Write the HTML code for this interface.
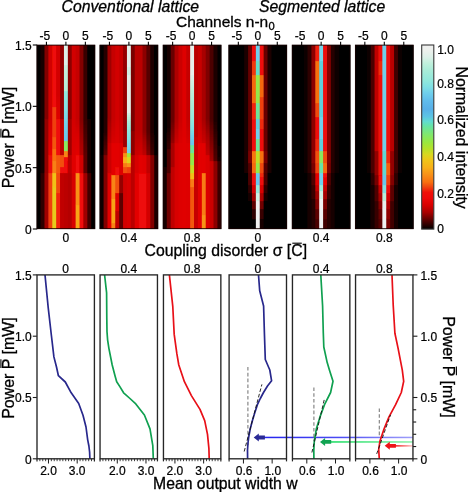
<!DOCTYPE html><html><head><meta charset="utf-8"><title>fig</title><style>html,body{margin:0;padding:0;background:#fff}svg{display:block}text{font-family:"Liberation Sans",sans-serif;fill:#000;stroke:#000;stroke-width:0.3px}.s{stroke-width:0.22px}</style></head><body>
<svg width="468" height="492" viewBox="0 0 468 492">
<defs>
<filter id="bl" x="-5%" y="-5%" width="110%" height="110%"><feGaussianBlur stdDeviation="0.65 0.45"/></filter>
<clipPath id="hc0"><rect x="36.70" y="45" width="58.40" height="184"/></clipPath>
<clipPath id="lc0"><rect x="37.00" y="274.9" width="57.40" height="183.90"/></clipPath>
<clipPath id="hc1"><rect x="99.70" y="45" width="58.40" height="184"/></clipPath>
<clipPath id="lc1"><rect x="100.05" y="274.9" width="57.40" height="183.90"/></clipPath>
<clipPath id="hc2"><rect x="162.90" y="45" width="58.40" height="184"/></clipPath>
<clipPath id="lc2"><rect x="163.45" y="274.9" width="57.40" height="183.90"/></clipPath>
<clipPath id="hc3"><rect x="228.60" y="45" width="58.40" height="184"/></clipPath>
<clipPath id="lc3"><rect x="229.10" y="274.9" width="57.40" height="183.90"/></clipPath>
<clipPath id="hc4"><rect x="291.95" y="45" width="58.40" height="184"/></clipPath>
<clipPath id="lc4"><rect x="292.45" y="274.9" width="57.40" height="183.90"/></clipPath>
<clipPath id="hc5"><rect x="355.10" y="45" width="58.40" height="184"/></clipPath>
<clipPath id="lc5"><rect x="355.55" y="274.9" width="57.40" height="183.90"/></clipPath>
<linearGradient id="cb" x1="0" y1="1" x2="0" y2="0">
<stop offset="0.000" stop-color="#000000"/>
<stop offset="0.030" stop-color="#380000"/>
<stop offset="0.060" stop-color="#700000"/>
<stop offset="0.090" stop-color="#a80000"/>
<stop offset="0.130" stop-color="#d80000"/>
<stop offset="0.170" stop-color="#ee0808"/>
<stop offset="0.200" stop-color="#f01008"/>
<stop offset="0.230" stop-color="#f04810"/>
<stop offset="0.255" stop-color="#f87010"/>
<stop offset="0.295" stop-color="#f89018"/>
<stop offset="0.335" stop-color="#f8b018"/>
<stop offset="0.373" stop-color="#f0c418"/>
<stop offset="0.406" stop-color="#d8d820"/>
<stop offset="0.434" stop-color="#b8e028"/>
<stop offset="0.472" stop-color="#98e840"/>
<stop offset="0.516" stop-color="#80e870"/>
<stop offset="0.556" stop-color="#68e4a0"/>
<stop offset="0.584" stop-color="#60dcd0"/>
<stop offset="0.611" stop-color="#5cc4e4"/>
<stop offset="0.652" stop-color="#58b0e8"/>
<stop offset="0.696" stop-color="#60bcec"/>
<stop offset="0.740" stop-color="#70d0ec"/>
<stop offset="0.773" stop-color="#80e0e4"/>
<stop offset="0.806" stop-color="#90e8dc"/>
<stop offset="0.861" stop-color="#a8ecd8"/>
<stop offset="0.900" stop-color="#c0f0dc"/>
<stop offset="0.934" stop-color="#dcf0e8"/>
<stop offset="0.970" stop-color="#ecf0ec"/>
<stop offset="1.000" stop-color="#f0f0f0"/>
</linearGradient>
<linearGradient id="fb" x1="0" x2="1" y1="0" y2="0"><stop offset="0" stop-color="#2222dd"/><stop offset="1" stop-color="#8888ff"/></linearGradient>
</defs>
<rect width="468" height="492" fill="#fff"/>
<text x="61.6" y="12.0" font-size="15.75" font-style="italic">Conventional lattice</text>
<text x="259.1" y="12.0" font-size="15.75" font-style="italic">Segmented lattice</text>
<text x="176" y="27.2" font-size="15.5">Channels n-n<tspan font-size="11.2" dy="2.4" dx="0.3">0</tspan></text>
<g clip-path="url(#hc0)"><g filter="url(#bl)">
<rect x="33.70" y="42" width="64.40" height="190" fill="#000"/>
<rect x="36.70" y="44.85" width="5.09" height="184.30" fill="#000000"/>
<rect x="40.59" y="172.85" width="5.09" height="56.30" fill="#2f0000"/>
<rect x="40.59" y="44.85" width="5.09" height="128.30" fill="#160000"/>
<rect x="44.49" y="172.85" width="5.09" height="56.30" fill="#9f0000"/>
<rect x="44.49" y="118.85" width="5.09" height="54.30" fill="#950000"/>
<rect x="44.49" y="44.85" width="5.09" height="74.30" fill="#830000"/>
<rect x="48.38" y="172.85" width="5.09" height="56.30" fill="#f03f0f"/>
<rect x="48.38" y="154.85" width="5.09" height="18.30" fill="#ef0d08"/>
<rect x="48.38" y="152.85" width="5.09" height="2.30" fill="#e80606"/>
<rect x="48.38" y="150.85" width="5.09" height="2.30" fill="#e70505"/>
<rect x="48.38" y="148.85" width="5.09" height="2.30" fill="#e60505"/>
<rect x="48.38" y="146.85" width="5.09" height="2.30" fill="#e50505"/>
<rect x="48.38" y="144.85" width="5.09" height="2.30" fill="#e40404"/>
<rect x="48.38" y="142.85" width="5.09" height="2.30" fill="#e30404"/>
<rect x="48.38" y="140.85" width="5.09" height="2.30" fill="#e10303"/>
<rect x="48.38" y="138.85" width="5.09" height="2.30" fill="#e00303"/>
<rect x="48.38" y="136.85" width="5.09" height="2.30" fill="#df0303"/>
<rect x="48.38" y="134.85" width="5.09" height="2.30" fill="#de0202"/>
<rect x="48.38" y="132.85" width="5.09" height="2.30" fill="#dd0202"/>
<rect x="48.38" y="130.85" width="5.09" height="2.30" fill="#dc0202"/>
<rect x="48.38" y="128.85" width="5.09" height="2.30" fill="#db0101"/>
<rect x="48.38" y="126.85" width="5.09" height="2.30" fill="#da0101"/>
<rect x="48.38" y="124.85" width="5.09" height="2.30" fill="#d90000"/>
<rect x="48.38" y="122.85" width="5.09" height="2.30" fill="#d80000"/>
<rect x="48.38" y="120.85" width="5.09" height="2.30" fill="#d60000"/>
<rect x="48.38" y="118.85" width="5.09" height="2.30" fill="#d40000"/>
<rect x="48.38" y="44.85" width="5.09" height="74.30" fill="#d20000"/>
<rect x="52.27" y="186.85" width="5.09" height="42.30" fill="#e7cb1b"/>
<rect x="52.27" y="172.85" width="5.09" height="14.30" fill="#f1c218"/>
<rect x="52.27" y="160.85" width="5.09" height="12.30" fill="#f88014"/>
<rect x="52.27" y="148.85" width="5.09" height="12.30" fill="#f87010"/>
<rect x="52.27" y="136.85" width="5.09" height="12.30" fill="#f35810"/>
<rect x="52.27" y="106.85" width="5.09" height="30.30" fill="#f03f0f"/>
<rect x="52.27" y="102.85" width="5.09" height="4.30" fill="#f01008"/>
<rect x="52.27" y="96.85" width="5.09" height="6.30" fill="#f00f08"/>
<rect x="52.27" y="94.85" width="5.09" height="2.30" fill="#f00e08"/>
<rect x="52.27" y="90.85" width="5.09" height="4.30" fill="#ef0e08"/>
<rect x="52.27" y="84.85" width="5.09" height="6.30" fill="#ef0d08"/>
<rect x="52.27" y="44.85" width="5.09" height="40.30" fill="#ef0c08"/>
<rect x="56.17" y="192.85" width="5.09" height="36.30" fill="#f0230b"/>
<rect x="56.17" y="172.85" width="5.09" height="20.30" fill="#f04810"/>
<rect x="56.17" y="154.85" width="5.09" height="18.30" fill="#f35810"/>
<rect x="56.17" y="118.85" width="5.09" height="36.30" fill="#ef0d08"/>
<rect x="56.17" y="114.85" width="5.09" height="4.30" fill="#dd0202"/>
<rect x="56.17" y="112.85" width="5.09" height="2.30" fill="#dc0101"/>
<rect x="56.17" y="108.85" width="5.09" height="4.30" fill="#db0101"/>
<rect x="56.17" y="106.85" width="5.09" height="2.30" fill="#da0101"/>
<rect x="56.17" y="102.85" width="5.09" height="4.30" fill="#d90000"/>
<rect x="56.17" y="100.85" width="5.09" height="2.30" fill="#d80000"/>
<rect x="56.17" y="98.85" width="5.09" height="2.30" fill="#d60000"/>
<rect x="56.17" y="96.85" width="5.09" height="2.30" fill="#d50000"/>
<rect x="56.17" y="94.85" width="5.09" height="2.30" fill="#d30000"/>
<rect x="56.17" y="44.85" width="5.09" height="50.30" fill="#d20000"/>
<rect x="60.06" y="172.85" width="5.09" height="56.30" fill="#c00000"/>
<rect x="60.06" y="166.85" width="5.09" height="6.30" fill="#f01008"/>
<rect x="60.06" y="154.85" width="5.09" height="12.30" fill="#f25010"/>
<rect x="60.06" y="118.85" width="5.09" height="36.30" fill="#c00000"/>
<rect x="60.06" y="44.85" width="5.09" height="74.30" fill="#950000"/>
<rect x="63.95" y="172.85" width="5.09" height="56.30" fill="#bb0000"/>
<rect x="63.95" y="160.85" width="5.09" height="12.30" fill="#ee0808"/>
<rect x="63.95" y="156.85" width="5.09" height="4.30" fill="#f01008"/>
<rect x="63.95" y="150.85" width="5.09" height="6.30" fill="#f88415"/>
<rect x="63.95" y="140.85" width="5.09" height="10.30" fill="#89e85f"/>
<rect x="63.95" y="138.85" width="5.09" height="2.30" fill="#69c7ec"/>
<rect x="63.95" y="136.85" width="5.09" height="2.30" fill="#6ac8ec"/>
<rect x="63.95" y="134.85" width="5.09" height="2.30" fill="#6bc9ec"/>
<rect x="63.95" y="132.85" width="5.09" height="2.30" fill="#6ccbec"/>
<rect x="63.95" y="130.85" width="5.09" height="2.30" fill="#6dccec"/>
<rect x="63.95" y="128.85" width="5.09" height="2.30" fill="#6ecdec"/>
<rect x="63.95" y="126.85" width="5.09" height="2.30" fill="#6eceec"/>
<rect x="63.95" y="124.85" width="5.09" height="2.30" fill="#6fcfec"/>
<rect x="63.95" y="122.85" width="5.09" height="2.30" fill="#71d1ec"/>
<rect x="63.95" y="120.85" width="5.09" height="2.30" fill="#73d3eb"/>
<rect x="63.95" y="118.85" width="5.09" height="2.30" fill="#75d5ea"/>
<rect x="63.95" y="116.85" width="5.09" height="2.30" fill="#77d7e8"/>
<rect x="63.95" y="114.85" width="5.09" height="2.30" fill="#79d9e7"/>
<rect x="63.95" y="112.85" width="5.09" height="2.30" fill="#7bdbe6"/>
<rect x="63.95" y="110.85" width="5.09" height="2.30" fill="#7ddde5"/>
<rect x="63.95" y="108.85" width="5.09" height="2.30" fill="#80e0e4"/>
<rect x="63.95" y="106.85" width="5.09" height="2.30" fill="#82e1e3"/>
<rect x="63.95" y="104.85" width="5.09" height="2.30" fill="#84e2e2"/>
<rect x="63.95" y="102.85" width="5.09" height="2.30" fill="#86e3e1"/>
<rect x="63.95" y="100.85" width="5.09" height="2.30" fill="#87e4e0"/>
<rect x="63.95" y="98.85" width="5.09" height="2.30" fill="#89e5df"/>
<rect x="63.95" y="96.85" width="5.09" height="2.30" fill="#8be5df"/>
<rect x="63.95" y="94.85" width="5.09" height="2.30" fill="#8de6de"/>
<rect x="63.95" y="92.85" width="5.09" height="2.30" fill="#8fe7dd"/>
<rect x="63.95" y="90.85" width="5.09" height="2.30" fill="#90e8dc"/>
<rect x="63.95" y="88.85" width="5.09" height="2.30" fill="#b4eeda"/>
<rect x="63.95" y="86.85" width="5.09" height="2.30" fill="#b5eeda"/>
<rect x="63.95" y="84.85" width="5.09" height="2.30" fill="#b7eeda"/>
<rect x="63.95" y="82.85" width="5.09" height="2.30" fill="#b8efdb"/>
<rect x="63.95" y="80.85" width="5.09" height="2.30" fill="#baefdb"/>
<rect x="63.95" y="78.85" width="5.09" height="2.30" fill="#bcefdb"/>
<rect x="63.95" y="76.85" width="5.09" height="2.30" fill="#bdf0dc"/>
<rect x="63.95" y="74.85" width="5.09" height="2.30" fill="#bff0dc"/>
<rect x="63.95" y="72.85" width="5.09" height="2.30" fill="#c0f0dc"/>
<rect x="63.95" y="70.85" width="5.09" height="2.30" fill="#c2f0dd"/>
<rect x="63.95" y="68.85" width="5.09" height="2.30" fill="#c4f0de"/>
<rect x="63.95" y="66.85" width="5.09" height="2.30" fill="#c6f0df"/>
<rect x="63.95" y="64.85" width="5.09" height="2.30" fill="#c8f0df"/>
<rect x="63.95" y="44.85" width="5.09" height="20.30" fill="#dcf0e8"/>
<rect x="67.85" y="172.85" width="5.09" height="56.30" fill="#b40000"/>
<rect x="67.85" y="154.85" width="5.09" height="18.30" fill="#ba0000"/>
<rect x="67.85" y="118.85" width="5.09" height="36.30" fill="#9f0000"/>
<rect x="67.85" y="44.85" width="5.09" height="74.30" fill="#8c0000"/>
<rect x="71.74" y="172.85" width="5.09" height="56.30" fill="#d80000"/>
<rect x="71.74" y="154.85" width="5.09" height="18.30" fill="#e00303"/>
<rect x="71.74" y="150.85" width="5.09" height="4.30" fill="#dd0202"/>
<rect x="71.74" y="148.85" width="5.09" height="2.30" fill="#dc0202"/>
<rect x="71.74" y="146.85" width="5.09" height="2.30" fill="#dc0101"/>
<rect x="71.74" y="142.85" width="5.09" height="4.30" fill="#db0101"/>
<rect x="71.74" y="136.85" width="5.09" height="6.30" fill="#da0101"/>
<rect x="71.74" y="132.85" width="5.09" height="4.30" fill="#d90000"/>
<rect x="71.74" y="128.85" width="5.09" height="4.30" fill="#d80000"/>
<rect x="71.74" y="126.85" width="5.09" height="2.30" fill="#d70000"/>
<rect x="71.74" y="124.85" width="5.09" height="2.30" fill="#d60000"/>
<rect x="71.74" y="122.85" width="5.09" height="2.30" fill="#d50000"/>
<rect x="71.74" y="120.85" width="5.09" height="2.30" fill="#d40000"/>
<rect x="71.74" y="118.85" width="5.09" height="2.30" fill="#d30000"/>
<rect x="71.74" y="44.85" width="5.09" height="74.30" fill="#d20000"/>
<rect x="75.63" y="204.85" width="5.09" height="24.30" fill="#f8a418"/>
<rect x="75.63" y="172.85" width="5.09" height="32.30" fill="#f89018"/>
<rect x="75.63" y="154.85" width="5.09" height="18.30" fill="#ef0b08"/>
<rect x="75.63" y="152.85" width="5.09" height="2.30" fill="#e20404"/>
<rect x="75.63" y="150.85" width="5.09" height="2.30" fill="#e10303"/>
<rect x="75.63" y="148.85" width="5.09" height="2.30" fill="#e00303"/>
<rect x="75.63" y="146.85" width="5.09" height="2.30" fill="#df0303"/>
<rect x="75.63" y="144.85" width="5.09" height="2.30" fill="#de0202"/>
<rect x="75.63" y="142.85" width="5.09" height="2.30" fill="#dd0202"/>
<rect x="75.63" y="140.85" width="5.09" height="2.30" fill="#dc0101"/>
<rect x="75.63" y="138.85" width="5.09" height="2.30" fill="#db0101"/>
<rect x="75.63" y="136.85" width="5.09" height="2.30" fill="#da0101"/>
<rect x="75.63" y="134.85" width="5.09" height="2.30" fill="#d90000"/>
<rect x="75.63" y="132.85" width="5.09" height="2.30" fill="#d80000"/>
<rect x="75.63" y="130.85" width="5.09" height="2.30" fill="#d50000"/>
<rect x="75.63" y="128.85" width="5.09" height="2.30" fill="#d30000"/>
<rect x="75.63" y="126.85" width="5.09" height="2.30" fill="#d10000"/>
<rect x="75.63" y="124.85" width="5.09" height="2.30" fill="#ce0000"/>
<rect x="75.63" y="122.85" width="5.09" height="2.30" fill="#cc0000"/>
<rect x="75.63" y="120.85" width="5.09" height="2.30" fill="#ca0000"/>
<rect x="75.63" y="118.85" width="5.09" height="2.30" fill="#c80000"/>
<rect x="75.63" y="44.85" width="5.09" height="74.30" fill="#c60000"/>
<rect x="79.53" y="172.85" width="5.09" height="56.30" fill="#f01008"/>
<rect x="79.53" y="154.85" width="5.09" height="18.30" fill="#d20000"/>
<rect x="79.53" y="152.85" width="5.09" height="2.30" fill="#b30000"/>
<rect x="79.53" y="150.85" width="5.09" height="2.30" fill="#b10000"/>
<rect x="79.53" y="148.85" width="5.09" height="2.30" fill="#af0000"/>
<rect x="79.53" y="146.85" width="5.09" height="2.30" fill="#ad0000"/>
<rect x="79.53" y="144.85" width="5.09" height="2.30" fill="#ab0000"/>
<rect x="79.53" y="142.85" width="5.09" height="2.30" fill="#a90000"/>
<rect x="79.53" y="140.85" width="5.09" height="2.30" fill="#a60000"/>
<rect x="79.53" y="138.85" width="5.09" height="2.30" fill="#a30000"/>
<rect x="79.53" y="136.85" width="5.09" height="2.30" fill="#a00000"/>
<rect x="79.53" y="134.85" width="5.09" height="2.30" fill="#9d0000"/>
<rect x="79.53" y="132.85" width="5.09" height="2.30" fill="#9a0000"/>
<rect x="79.53" y="130.85" width="5.09" height="2.30" fill="#970000"/>
<rect x="79.53" y="128.85" width="5.09" height="2.30" fill="#940000"/>
<rect x="79.53" y="126.85" width="5.09" height="2.30" fill="#910000"/>
<rect x="79.53" y="124.85" width="5.09" height="2.30" fill="#8e0000"/>
<rect x="79.53" y="122.85" width="5.09" height="2.30" fill="#8b0000"/>
<rect x="79.53" y="120.85" width="5.09" height="2.30" fill="#880000"/>
<rect x="79.53" y="118.85" width="5.09" height="2.30" fill="#850000"/>
<rect x="79.53" y="44.85" width="5.09" height="74.30" fill="#830000"/>
<rect x="83.42" y="172.85" width="5.09" height="56.30" fill="#9f0000"/>
<rect x="83.42" y="154.85" width="5.09" height="18.30" fill="#5d0000"/>
<rect x="83.42" y="152.85" width="5.09" height="2.30" fill="#5c0000"/>
<rect x="83.42" y="150.85" width="5.09" height="2.30" fill="#5a0000"/>
<rect x="83.42" y="148.85" width="5.09" height="2.30" fill="#580000"/>
<rect x="83.42" y="146.85" width="5.09" height="2.30" fill="#560000"/>
<rect x="83.42" y="144.85" width="5.09" height="2.30" fill="#540000"/>
<rect x="83.42" y="142.85" width="5.09" height="2.30" fill="#520000"/>
<rect x="83.42" y="140.85" width="5.09" height="2.30" fill="#500000"/>
<rect x="83.42" y="138.85" width="5.09" height="2.30" fill="#4e0000"/>
<rect x="83.42" y="136.85" width="5.09" height="2.30" fill="#4c0000"/>
<rect x="83.42" y="134.85" width="5.09" height="2.30" fill="#4a0000"/>
<rect x="83.42" y="132.85" width="5.09" height="2.30" fill="#480000"/>
<rect x="83.42" y="130.85" width="5.09" height="2.30" fill="#460000"/>
<rect x="83.42" y="128.85" width="5.09" height="2.30" fill="#440000"/>
<rect x="83.42" y="126.85" width="5.09" height="2.30" fill="#420000"/>
<rect x="83.42" y="124.85" width="5.09" height="2.30" fill="#400000"/>
<rect x="83.42" y="122.85" width="5.09" height="2.30" fill="#3d0000"/>
<rect x="83.42" y="120.85" width="5.09" height="2.30" fill="#3b0000"/>
<rect x="83.42" y="118.85" width="5.09" height="2.30" fill="#390000"/>
<rect x="83.42" y="44.85" width="5.09" height="74.30" fill="#380000"/>
<rect x="87.31" y="172.85" width="5.09" height="56.30" fill="#410000"/>
<rect x="87.31" y="118.85" width="5.09" height="54.30" fill="#160000"/>
<rect x="87.31" y="44.85" width="5.09" height="74.30" fill="#000000"/>
<rect x="91.21" y="44.85" width="5.09" height="184.30" fill="#000000"/>
</g></g>
<rect x="37.00" y="45.1" width="57.80" height="183.6" fill="none" stroke="#140000" stroke-width="0.9"/>
<line x1="46.43" y1="41.8" x2="46.43" y2="45.3" stroke="#000" stroke-width="1.1"/>
<text x="44.93" y="40.4" class="s" font-size="12" text-anchor="middle">-5</text>
<line x1="65.90" y1="41.8" x2="65.90" y2="45.3" stroke="#000" stroke-width="1.1"/>
<text x="65.90" y="40.4" class="s" font-size="12" text-anchor="middle">0</text>
<line x1="85.37" y1="41.8" x2="85.37" y2="45.3" stroke="#000" stroke-width="1.1"/>
<text x="85.37" y="40.4" class="s" font-size="12" text-anchor="middle">5</text>
<text x="65.90" y="241.9" class="s" font-size="12" text-anchor="middle">0</text>
<text x="65.70" y="272.6" class="s" font-size="12" text-anchor="middle">0</text>
<g clip-path="url(#hc1)"><g filter="url(#bl)">
<rect x="96.70" y="42" width="64.40" height="190" fill="#000"/>
<rect x="99.70" y="154.85" width="5.09" height="74.30" fill="#0f0000"/>
<rect x="99.70" y="44.85" width="5.09" height="110.30" fill="#000000"/>
<rect x="103.59" y="154.85" width="5.09" height="74.30" fill="#830000"/>
<rect x="103.59" y="152.85" width="5.09" height="2.30" fill="#5a0000"/>
<rect x="103.59" y="150.85" width="5.09" height="2.30" fill="#560000"/>
<rect x="103.59" y="148.85" width="5.09" height="2.30" fill="#510000"/>
<rect x="103.59" y="146.85" width="5.09" height="2.30" fill="#4c0000"/>
<rect x="103.59" y="144.85" width="5.09" height="2.30" fill="#480000"/>
<rect x="103.59" y="142.85" width="5.09" height="2.30" fill="#430000"/>
<rect x="103.59" y="140.85" width="5.09" height="2.30" fill="#3f0000"/>
<rect x="103.59" y="138.85" width="5.09" height="2.30" fill="#3a0000"/>
<rect x="103.59" y="136.85" width="5.09" height="2.30" fill="#360000"/>
<rect x="103.59" y="134.85" width="5.09" height="2.30" fill="#310000"/>
<rect x="103.59" y="132.85" width="5.09" height="2.30" fill="#2c0000"/>
<rect x="103.59" y="130.85" width="5.09" height="2.30" fill="#280000"/>
<rect x="103.59" y="44.85" width="5.09" height="86.30" fill="#250000"/>
<rect x="107.49" y="172.85" width="5.09" height="56.30" fill="#e30404"/>
<rect x="107.49" y="142.85" width="5.09" height="30.30" fill="#cc0000"/>
<rect x="107.49" y="140.85" width="5.09" height="2.30" fill="#bf0000"/>
<rect x="107.49" y="138.85" width="5.09" height="2.30" fill="#bc0000"/>
<rect x="107.49" y="136.85" width="5.09" height="2.30" fill="#ba0000"/>
<rect x="107.49" y="134.85" width="5.09" height="2.30" fill="#b70000"/>
<rect x="107.49" y="132.85" width="5.09" height="2.30" fill="#b50000"/>
<rect x="107.49" y="130.85" width="5.09" height="2.30" fill="#b20000"/>
<rect x="107.49" y="128.85" width="5.09" height="2.30" fill="#b00000"/>
<rect x="107.49" y="126.85" width="5.09" height="2.30" fill="#ad0000"/>
<rect x="107.49" y="124.85" width="5.09" height="2.30" fill="#ab0000"/>
<rect x="107.49" y="122.85" width="5.09" height="2.30" fill="#a90000"/>
<rect x="107.49" y="120.85" width="5.09" height="2.30" fill="#a50000"/>
<rect x="107.49" y="118.85" width="5.09" height="2.30" fill="#a10000"/>
<rect x="107.49" y="44.85" width="5.09" height="74.30" fill="#9f0000"/>
<rect x="111.38" y="222.85" width="5.09" height="6.30" fill="#f88415"/>
<rect x="111.38" y="198.85" width="5.09" height="24.30" fill="#f8a418"/>
<rect x="111.38" y="174.85" width="5.09" height="24.30" fill="#f88415"/>
<rect x="111.38" y="142.85" width="5.09" height="32.30" fill="#e30404"/>
<rect x="111.38" y="140.85" width="5.09" height="2.30" fill="#d70000"/>
<rect x="111.38" y="138.85" width="5.09" height="2.30" fill="#d60000"/>
<rect x="111.38" y="136.85" width="5.09" height="2.30" fill="#d40000"/>
<rect x="111.38" y="134.85" width="5.09" height="2.30" fill="#d30000"/>
<rect x="111.38" y="132.85" width="5.09" height="2.30" fill="#d10000"/>
<rect x="111.38" y="130.85" width="5.09" height="2.30" fill="#d00000"/>
<rect x="111.38" y="128.85" width="5.09" height="2.30" fill="#ce0000"/>
<rect x="111.38" y="126.85" width="5.09" height="2.30" fill="#cd0000"/>
<rect x="111.38" y="124.85" width="5.09" height="2.30" fill="#cb0000"/>
<rect x="111.38" y="122.85" width="5.09" height="2.30" fill="#ca0000"/>
<rect x="111.38" y="120.85" width="5.09" height="2.30" fill="#c80000"/>
<rect x="111.38" y="118.85" width="5.09" height="2.30" fill="#c70000"/>
<rect x="111.38" y="44.85" width="5.09" height="74.30" fill="#c60000"/>
<rect x="115.27" y="210.85" width="5.09" height="18.30" fill="#c00000"/>
<rect x="115.27" y="192.85" width="5.09" height="18.30" fill="#de0202"/>
<rect x="115.27" y="174.85" width="5.09" height="18.30" fill="#f25010"/>
<rect x="115.27" y="166.85" width="5.09" height="8.30" fill="#ef0b08"/>
<rect x="115.27" y="142.85" width="5.09" height="24.30" fill="#e30404"/>
<rect x="115.27" y="136.85" width="5.09" height="6.30" fill="#da0101"/>
<rect x="115.27" y="132.85" width="5.09" height="4.30" fill="#d90000"/>
<rect x="115.27" y="128.85" width="5.09" height="4.30" fill="#d80000"/>
<rect x="115.27" y="126.85" width="5.09" height="2.30" fill="#d70000"/>
<rect x="115.27" y="124.85" width="5.09" height="2.30" fill="#d60000"/>
<rect x="115.27" y="122.85" width="5.09" height="2.30" fill="#d50000"/>
<rect x="115.27" y="120.85" width="5.09" height="2.30" fill="#d40000"/>
<rect x="115.27" y="118.85" width="5.09" height="2.30" fill="#d30000"/>
<rect x="115.27" y="44.85" width="5.09" height="74.30" fill="#d20000"/>
<rect x="119.17" y="192.85" width="5.09" height="36.30" fill="#5d0000"/>
<rect x="119.17" y="174.85" width="5.09" height="18.30" fill="#950000"/>
<rect x="119.17" y="142.85" width="5.09" height="32.30" fill="#de0202"/>
<rect x="119.17" y="140.85" width="5.09" height="2.30" fill="#d10000"/>
<rect x="119.17" y="138.85" width="5.09" height="2.30" fill="#d00000"/>
<rect x="119.17" y="134.85" width="5.09" height="4.30" fill="#cf0000"/>
<rect x="119.17" y="132.85" width="5.09" height="2.30" fill="#ce0000"/>
<rect x="119.17" y="130.85" width="5.09" height="2.30" fill="#cd0000"/>
<rect x="119.17" y="128.85" width="5.09" height="2.30" fill="#cc0000"/>
<rect x="119.17" y="126.85" width="5.09" height="2.30" fill="#cb0000"/>
<rect x="119.17" y="124.85" width="5.09" height="2.30" fill="#ca0000"/>
<rect x="119.17" y="122.85" width="5.09" height="2.30" fill="#c90000"/>
<rect x="119.17" y="120.85" width="5.09" height="2.30" fill="#c80000"/>
<rect x="119.17" y="118.85" width="5.09" height="2.30" fill="#c70000"/>
<rect x="119.17" y="44.85" width="5.09" height="74.30" fill="#c60000"/>
<rect x="123.06" y="172.85" width="5.09" height="56.30" fill="#d20000"/>
<rect x="123.06" y="166.85" width="5.09" height="6.30" fill="#f25010"/>
<rect x="123.06" y="162.85" width="5.09" height="4.30" fill="#f87c13"/>
<rect x="123.06" y="156.85" width="5.09" height="6.30" fill="#f8b018"/>
<rect x="123.06" y="152.85" width="5.09" height="4.30" fill="#f89018"/>
<rect x="123.06" y="146.85" width="5.09" height="6.30" fill="#f03f0f"/>
<rect x="123.06" y="130.85" width="5.09" height="16.30" fill="#9f0000"/>
<rect x="123.06" y="44.85" width="5.09" height="86.30" fill="#950000"/>
<rect x="126.95" y="172.85" width="5.09" height="56.30" fill="#d80000"/>
<rect x="126.95" y="166.85" width="5.09" height="6.30" fill="#f03f0f"/>
<rect x="126.95" y="162.85" width="5.09" height="4.30" fill="#f89018"/>
<rect x="126.95" y="156.85" width="5.09" height="6.30" fill="#dcd41f"/>
<rect x="126.95" y="152.85" width="5.09" height="4.30" fill="#a2e538"/>
<rect x="126.95" y="150.85" width="5.09" height="2.30" fill="#71d1ec"/>
<rect x="126.95" y="148.85" width="5.09" height="2.30" fill="#73d3ea"/>
<rect x="126.95" y="146.85" width="5.09" height="2.30" fill="#76d6e9"/>
<rect x="126.95" y="144.85" width="5.09" height="2.30" fill="#79d9e8"/>
<rect x="126.95" y="142.85" width="5.09" height="2.30" fill="#7bdbe6"/>
<rect x="126.95" y="140.85" width="5.09" height="2.30" fill="#7edee5"/>
<rect x="126.95" y="138.85" width="5.09" height="2.30" fill="#81e0e4"/>
<rect x="126.95" y="136.85" width="5.09" height="2.30" fill="#83e2e2"/>
<rect x="126.95" y="134.85" width="5.09" height="2.30" fill="#86e3e1"/>
<rect x="126.95" y="132.85" width="5.09" height="2.30" fill="#89e4e0"/>
<rect x="126.95" y="130.85" width="5.09" height="2.30" fill="#8ce6de"/>
<rect x="126.95" y="128.85" width="5.09" height="2.30" fill="#90e8dc"/>
<rect x="126.95" y="126.85" width="5.09" height="2.30" fill="#96e9db"/>
<rect x="126.95" y="124.85" width="5.09" height="2.30" fill="#9ceada"/>
<rect x="126.95" y="122.85" width="5.09" height="2.30" fill="#a3ebd9"/>
<rect x="126.95" y="120.85" width="5.09" height="2.30" fill="#a9ecd8"/>
<rect x="126.95" y="118.85" width="5.09" height="2.30" fill="#b2eeda"/>
<rect x="126.95" y="116.85" width="5.09" height="2.30" fill="#baefdb"/>
<rect x="126.95" y="114.85" width="5.09" height="2.30" fill="#c4f0de"/>
<rect x="126.95" y="112.85" width="5.09" height="2.30" fill="#d0f0e3"/>
<rect x="126.95" y="74.85" width="5.09" height="38.30" fill="#e3f0ea"/>
<rect x="126.95" y="66.85" width="5.09" height="8.30" fill="#d0f0e3"/>
<rect x="126.95" y="44.85" width="5.09" height="22.30" fill="#e3f0ea"/>
<rect x="130.85" y="154.85" width="5.09" height="74.30" fill="#ba0000"/>
<rect x="130.85" y="130.85" width="5.09" height="24.30" fill="#8c0000"/>
<rect x="130.85" y="44.85" width="5.09" height="86.30" fill="#790000"/>
<rect x="134.74" y="172.85" width="5.09" height="56.30" fill="#e30404"/>
<rect x="134.74" y="154.85" width="5.09" height="18.30" fill="#d80000"/>
<rect x="134.74" y="152.85" width="5.09" height="2.30" fill="#cb0000"/>
<rect x="134.74" y="150.85" width="5.09" height="2.30" fill="#ca0000"/>
<rect x="134.74" y="148.85" width="5.09" height="2.30" fill="#c80000"/>
<rect x="134.74" y="146.85" width="5.09" height="2.30" fill="#c70000"/>
<rect x="134.74" y="144.85" width="5.09" height="2.30" fill="#c50000"/>
<rect x="134.74" y="142.85" width="5.09" height="2.30" fill="#c40000"/>
<rect x="134.74" y="140.85" width="5.09" height="2.30" fill="#c20000"/>
<rect x="134.74" y="138.85" width="5.09" height="2.30" fill="#c10000"/>
<rect x="134.74" y="136.85" width="5.09" height="2.30" fill="#bf0000"/>
<rect x="134.74" y="134.85" width="5.09" height="2.30" fill="#be0000"/>
<rect x="134.74" y="132.85" width="5.09" height="2.30" fill="#bc0000"/>
<rect x="134.74" y="130.85" width="5.09" height="2.30" fill="#bb0000"/>
<rect x="134.74" y="44.85" width="5.09" height="86.30" fill="#ba0000"/>
<rect x="138.63" y="172.85" width="5.09" height="56.30" fill="#ee0808"/>
<rect x="138.63" y="154.85" width="5.09" height="18.30" fill="#e30404"/>
<rect x="138.63" y="152.85" width="5.09" height="2.30" fill="#d10000"/>
<rect x="138.63" y="150.85" width="5.09" height="2.30" fill="#cf0000"/>
<rect x="138.63" y="148.85" width="5.09" height="2.30" fill="#cd0000"/>
<rect x="138.63" y="146.85" width="5.09" height="2.30" fill="#cb0000"/>
<rect x="138.63" y="144.85" width="5.09" height="2.30" fill="#c90000"/>
<rect x="138.63" y="142.85" width="5.09" height="2.30" fill="#c70000"/>
<rect x="138.63" y="140.85" width="5.09" height="2.30" fill="#c50000"/>
<rect x="138.63" y="138.85" width="5.09" height="2.30" fill="#c30000"/>
<rect x="138.63" y="136.85" width="5.09" height="2.30" fill="#c10000"/>
<rect x="138.63" y="134.85" width="5.09" height="2.30" fill="#bf0000"/>
<rect x="138.63" y="132.85" width="5.09" height="2.30" fill="#bd0000"/>
<rect x="138.63" y="130.85" width="5.09" height="2.30" fill="#bb0000"/>
<rect x="138.63" y="44.85" width="5.09" height="86.30" fill="#ba0000"/>
<rect x="142.53" y="172.85" width="5.09" height="56.30" fill="#ee0808"/>
<rect x="142.53" y="154.85" width="5.09" height="18.30" fill="#e00303"/>
<rect x="142.53" y="152.85" width="5.09" height="2.30" fill="#be0000"/>
<rect x="142.53" y="150.85" width="5.09" height="2.30" fill="#ba0000"/>
<rect x="142.53" y="148.85" width="5.09" height="2.30" fill="#b70000"/>
<rect x="142.53" y="146.85" width="5.09" height="2.30" fill="#b30000"/>
<rect x="142.53" y="144.85" width="5.09" height="2.30" fill="#b00000"/>
<rect x="142.53" y="142.85" width="5.09" height="2.30" fill="#ac0000"/>
<rect x="142.53" y="140.85" width="5.09" height="2.30" fill="#a90000"/>
<rect x="142.53" y="138.85" width="5.09" height="2.30" fill="#a40000"/>
<rect x="142.53" y="136.85" width="5.09" height="2.30" fill="#9f0000"/>
<rect x="142.53" y="134.85" width="5.09" height="2.30" fill="#9a0000"/>
<rect x="142.53" y="132.85" width="5.09" height="2.30" fill="#940000"/>
<rect x="142.53" y="130.85" width="5.09" height="2.30" fill="#8f0000"/>
<rect x="142.53" y="44.85" width="5.09" height="86.30" fill="#8c0000"/>
<rect x="146.42" y="172.85" width="5.09" height="56.30" fill="#d20000"/>
<rect x="146.42" y="154.85" width="5.09" height="18.30" fill="#c00000"/>
<rect x="146.42" y="152.85" width="5.09" height="2.30" fill="#800000"/>
<rect x="146.42" y="150.85" width="5.09" height="2.30" fill="#7c0000"/>
<rect x="146.42" y="148.85" width="5.09" height="2.30" fill="#780000"/>
<rect x="146.42" y="146.85" width="5.09" height="2.30" fill="#750000"/>
<rect x="146.42" y="144.85" width="5.09" height="2.30" fill="#710000"/>
<rect x="146.42" y="142.85" width="5.09" height="2.30" fill="#6d0000"/>
<rect x="146.42" y="140.85" width="5.09" height="2.30" fill="#690000"/>
<rect x="146.42" y="138.85" width="5.09" height="2.30" fill="#650000"/>
<rect x="146.42" y="136.85" width="5.09" height="2.30" fill="#620000"/>
<rect x="146.42" y="134.85" width="5.09" height="2.30" fill="#5e0000"/>
<rect x="146.42" y="132.85" width="5.09" height="2.30" fill="#5a0000"/>
<rect x="146.42" y="130.85" width="5.09" height="2.30" fill="#560000"/>
<rect x="146.42" y="44.85" width="5.09" height="86.30" fill="#540000"/>
<rect x="150.31" y="154.85" width="5.09" height="74.30" fill="#830000"/>
<rect x="150.31" y="152.85" width="5.09" height="2.30" fill="#3f0000"/>
<rect x="150.31" y="150.85" width="5.09" height="2.30" fill="#3c0000"/>
<rect x="150.31" y="148.85" width="5.09" height="2.30" fill="#390000"/>
<rect x="150.31" y="146.85" width="5.09" height="2.30" fill="#360000"/>
<rect x="150.31" y="144.85" width="5.09" height="2.30" fill="#330000"/>
<rect x="150.31" y="142.85" width="5.09" height="2.30" fill="#300000"/>
<rect x="150.31" y="140.85" width="5.09" height="2.30" fill="#2d0000"/>
<rect x="150.31" y="138.85" width="5.09" height="2.30" fill="#2a0000"/>
<rect x="150.31" y="136.85" width="5.09" height="2.30" fill="#270000"/>
<rect x="150.31" y="134.85" width="5.09" height="2.30" fill="#240000"/>
<rect x="150.31" y="132.85" width="5.09" height="2.30" fill="#210000"/>
<rect x="150.31" y="130.85" width="5.09" height="2.30" fill="#1e0000"/>
<rect x="150.31" y="44.85" width="5.09" height="86.30" fill="#1c0000"/>
<rect x="154.21" y="154.85" width="5.09" height="74.30" fill="#1c0000"/>
<rect x="154.21" y="44.85" width="5.09" height="110.30" fill="#000000"/>
</g></g>
<rect x="100.00" y="45.1" width="57.80" height="183.6" fill="none" stroke="#140000" stroke-width="0.9"/>
<line x1="109.43" y1="41.8" x2="109.43" y2="45.3" stroke="#000" stroke-width="1.1"/>
<text x="107.93" y="40.4" class="s" font-size="12" text-anchor="middle">-5</text>
<line x1="128.90" y1="41.8" x2="128.90" y2="45.3" stroke="#000" stroke-width="1.1"/>
<text x="128.90" y="40.4" class="s" font-size="12" text-anchor="middle">0</text>
<line x1="148.37" y1="41.8" x2="148.37" y2="45.3" stroke="#000" stroke-width="1.1"/>
<text x="148.37" y="40.4" class="s" font-size="12" text-anchor="middle">5</text>
<text x="128.90" y="241.9" class="s" font-size="12" text-anchor="middle">0.4</text>
<text x="128.75" y="272.6" class="s" font-size="12" text-anchor="middle">0.4</text>
<g clip-path="url(#hc2)"><g filter="url(#bl)">
<rect x="159.90" y="42" width="64.40" height="190" fill="#000"/>
<rect x="162.90" y="166.85" width="5.09" height="62.30" fill="#160000"/>
<rect x="162.90" y="44.85" width="5.09" height="122.30" fill="#000000"/>
<rect x="166.79" y="172.85" width="5.09" height="56.30" fill="#700000"/>
<rect x="166.79" y="148.85" width="5.09" height="24.30" fill="#4b0000"/>
<rect x="166.79" y="146.85" width="5.09" height="2.30" fill="#360000"/>
<rect x="166.79" y="144.85" width="5.09" height="2.30" fill="#340000"/>
<rect x="166.79" y="142.85" width="5.09" height="2.30" fill="#310000"/>
<rect x="166.79" y="140.85" width="5.09" height="2.30" fill="#2e0000"/>
<rect x="166.79" y="138.85" width="5.09" height="2.30" fill="#2b0000"/>
<rect x="166.79" y="136.85" width="5.09" height="2.30" fill="#290000"/>
<rect x="166.79" y="134.85" width="5.09" height="2.30" fill="#260000"/>
<rect x="166.79" y="132.85" width="5.09" height="2.30" fill="#230000"/>
<rect x="166.79" y="130.85" width="5.09" height="2.30" fill="#200000"/>
<rect x="166.79" y="128.85" width="5.09" height="2.30" fill="#1e0000"/>
<rect x="166.79" y="126.85" width="5.09" height="2.30" fill="#1b0000"/>
<rect x="166.79" y="124.85" width="5.09" height="2.30" fill="#180000"/>
<rect x="166.79" y="44.85" width="5.09" height="80.30" fill="#160000"/>
<rect x="170.69" y="166.85" width="5.09" height="62.30" fill="#c00000"/>
<rect x="170.69" y="142.85" width="5.09" height="24.30" fill="#a80000"/>
<rect x="170.69" y="140.85" width="5.09" height="2.30" fill="#930000"/>
<rect x="170.69" y="138.85" width="5.09" height="2.30" fill="#8f0000"/>
<rect x="170.69" y="136.85" width="5.09" height="2.30" fill="#8c0000"/>
<rect x="170.69" y="134.85" width="5.09" height="2.30" fill="#880000"/>
<rect x="170.69" y="132.85" width="5.09" height="2.30" fill="#840000"/>
<rect x="170.69" y="130.85" width="5.09" height="2.30" fill="#800000"/>
<rect x="170.69" y="128.85" width="5.09" height="2.30" fill="#7c0000"/>
<rect x="170.69" y="126.85" width="5.09" height="2.30" fill="#790000"/>
<rect x="170.69" y="124.85" width="5.09" height="2.30" fill="#750000"/>
<rect x="170.69" y="122.85" width="5.09" height="2.30" fill="#710000"/>
<rect x="170.69" y="120.85" width="5.09" height="2.30" fill="#6d0000"/>
<rect x="170.69" y="118.85" width="5.09" height="2.30" fill="#690000"/>
<rect x="170.69" y="44.85" width="5.09" height="74.30" fill="#670000"/>
<rect x="174.58" y="142.85" width="5.09" height="86.30" fill="#d80000"/>
<rect x="174.58" y="140.85" width="5.09" height="2.30" fill="#cb0000"/>
<rect x="174.58" y="138.85" width="5.09" height="2.30" fill="#c80000"/>
<rect x="174.58" y="136.85" width="5.09" height="2.30" fill="#c60000"/>
<rect x="174.58" y="134.85" width="5.09" height="2.30" fill="#c30000"/>
<rect x="174.58" y="132.85" width="5.09" height="2.30" fill="#c10000"/>
<rect x="174.58" y="130.85" width="5.09" height="2.30" fill="#be0000"/>
<rect x="174.58" y="128.85" width="5.09" height="2.30" fill="#bc0000"/>
<rect x="174.58" y="126.85" width="5.09" height="2.30" fill="#b90000"/>
<rect x="174.58" y="124.85" width="5.09" height="2.30" fill="#b70000"/>
<rect x="174.58" y="122.85" width="5.09" height="2.30" fill="#b50000"/>
<rect x="174.58" y="120.85" width="5.09" height="2.30" fill="#b20000"/>
<rect x="174.58" y="118.85" width="5.09" height="2.30" fill="#b00000"/>
<rect x="174.58" y="44.85" width="5.09" height="74.30" fill="#ae0000"/>
<rect x="178.47" y="142.85" width="5.09" height="86.30" fill="#de0202"/>
<rect x="178.47" y="138.85" width="5.09" height="4.30" fill="#da0101"/>
<rect x="178.47" y="136.85" width="5.09" height="2.30" fill="#d90000"/>
<rect x="178.47" y="134.85" width="5.09" height="2.30" fill="#d80000"/>
<rect x="178.47" y="132.85" width="5.09" height="2.30" fill="#d70000"/>
<rect x="178.47" y="130.85" width="5.09" height="2.30" fill="#d60000"/>
<rect x="178.47" y="128.85" width="5.09" height="2.30" fill="#d40000"/>
<rect x="178.47" y="126.85" width="5.09" height="2.30" fill="#d30000"/>
<rect x="178.47" y="124.85" width="5.09" height="2.30" fill="#d10000"/>
<rect x="178.47" y="122.85" width="5.09" height="2.30" fill="#d00000"/>
<rect x="178.47" y="120.85" width="5.09" height="2.30" fill="#ce0000"/>
<rect x="178.47" y="118.85" width="5.09" height="2.30" fill="#cd0000"/>
<rect x="178.47" y="44.85" width="5.09" height="74.30" fill="#cc0000"/>
<rect x="182.37" y="136.85" width="5.09" height="92.30" fill="#e00303"/>
<rect x="182.37" y="44.85" width="5.09" height="92.30" fill="#de0202"/>
<rect x="186.26" y="142.85" width="5.09" height="86.30" fill="#de0202"/>
<rect x="186.26" y="140.85" width="5.09" height="2.30" fill="#d70000"/>
<rect x="186.26" y="138.85" width="5.09" height="2.30" fill="#d60000"/>
<rect x="186.26" y="136.85" width="5.09" height="2.30" fill="#d40000"/>
<rect x="186.26" y="134.85" width="5.09" height="2.30" fill="#d30000"/>
<rect x="186.26" y="132.85" width="5.09" height="2.30" fill="#d10000"/>
<rect x="186.26" y="130.85" width="5.09" height="2.30" fill="#d00000"/>
<rect x="186.26" y="128.85" width="5.09" height="2.30" fill="#ce0000"/>
<rect x="186.26" y="126.85" width="5.09" height="2.30" fill="#cd0000"/>
<rect x="186.26" y="124.85" width="5.09" height="2.30" fill="#cb0000"/>
<rect x="186.26" y="122.85" width="5.09" height="2.30" fill="#ca0000"/>
<rect x="186.26" y="120.85" width="5.09" height="2.30" fill="#c80000"/>
<rect x="186.26" y="118.85" width="5.09" height="2.30" fill="#c70000"/>
<rect x="186.26" y="44.85" width="5.09" height="74.30" fill="#c60000"/>
<rect x="190.15" y="186.85" width="5.09" height="42.30" fill="#f35810"/>
<rect x="190.15" y="178.85" width="5.09" height="8.30" fill="#f87c13"/>
<rect x="190.15" y="172.85" width="5.09" height="6.30" fill="#f3bd18"/>
<rect x="190.15" y="164.85" width="5.09" height="8.30" fill="#c8dc24"/>
<rect x="190.15" y="152.85" width="5.09" height="12.30" fill="#94e849"/>
<rect x="190.15" y="144.85" width="5.09" height="8.30" fill="#6ce599"/>
<rect x="190.15" y="142.85" width="5.09" height="2.30" fill="#69c7ec"/>
<rect x="190.15" y="140.85" width="5.09" height="2.30" fill="#6bcaec"/>
<rect x="190.15" y="138.85" width="5.09" height="2.30" fill="#6dccec"/>
<rect x="190.15" y="136.85" width="5.09" height="2.30" fill="#6fcfec"/>
<rect x="190.15" y="134.85" width="5.09" height="2.30" fill="#72d2eb"/>
<rect x="190.15" y="132.85" width="5.09" height="2.30" fill="#76d6e9"/>
<rect x="190.15" y="130.85" width="5.09" height="2.30" fill="#7adae7"/>
<rect x="190.15" y="128.85" width="5.09" height="2.30" fill="#7edee5"/>
<rect x="190.15" y="126.85" width="5.09" height="2.30" fill="#82e1e3"/>
<rect x="190.15" y="124.85" width="5.09" height="2.30" fill="#86e3e1"/>
<rect x="190.15" y="122.85" width="5.09" height="2.30" fill="#8ae5df"/>
<rect x="190.15" y="120.85" width="5.09" height="2.30" fill="#8de7dd"/>
<rect x="190.15" y="118.85" width="5.09" height="2.30" fill="#91e8dc"/>
<rect x="190.15" y="116.85" width="5.09" height="2.30" fill="#94e9db"/>
<rect x="190.15" y="114.85" width="5.09" height="2.30" fill="#98e9db"/>
<rect x="190.15" y="112.85" width="5.09" height="2.30" fill="#9beada"/>
<rect x="190.15" y="110.85" width="5.09" height="2.30" fill="#9eeada"/>
<rect x="190.15" y="108.85" width="5.09" height="2.30" fill="#a1ebd9"/>
<rect x="190.15" y="106.85" width="5.09" height="2.30" fill="#a5ebd9"/>
<rect x="190.15" y="104.85" width="5.09" height="2.30" fill="#a8ecd8"/>
<rect x="190.15" y="102.85" width="5.09" height="2.30" fill="#abecd8"/>
<rect x="190.15" y="100.85" width="5.09" height="2.30" fill="#aeedd9"/>
<rect x="190.15" y="98.85" width="5.09" height="2.30" fill="#b1eeda"/>
<rect x="190.15" y="96.85" width="5.09" height="2.30" fill="#b4eeda"/>
<rect x="190.15" y="94.85" width="5.09" height="2.30" fill="#b7efdb"/>
<rect x="190.15" y="92.85" width="5.09" height="2.30" fill="#baefdb"/>
<rect x="190.15" y="90.85" width="5.09" height="2.30" fill="#bef0dc"/>
<rect x="190.15" y="88.85" width="5.09" height="2.30" fill="#c1f0dc"/>
<rect x="190.15" y="86.85" width="5.09" height="2.30" fill="#c5f0de"/>
<rect x="190.15" y="84.85" width="5.09" height="2.30" fill="#c9f0e0"/>
<rect x="190.15" y="82.85" width="5.09" height="2.30" fill="#cdf0e2"/>
<rect x="190.15" y="80.85" width="5.09" height="2.30" fill="#d1f0e3"/>
<rect x="190.15" y="78.85" width="5.09" height="2.30" fill="#d5f0e5"/>
<rect x="190.15" y="76.85" width="5.09" height="2.30" fill="#daf0e7"/>
<rect x="190.15" y="74.85" width="5.09" height="2.30" fill="#ddf0e8"/>
<rect x="190.15" y="44.85" width="5.09" height="30.30" fill="#e8f0eb"/>
<rect x="194.05" y="136.85" width="5.09" height="92.30" fill="#c60000"/>
<rect x="194.05" y="44.85" width="5.09" height="92.30" fill="#ba0000"/>
<rect x="197.94" y="142.85" width="5.09" height="86.30" fill="#e30404"/>
<rect x="197.94" y="140.85" width="5.09" height="2.30" fill="#d70000"/>
<rect x="197.94" y="138.85" width="5.09" height="2.30" fill="#d60000"/>
<rect x="197.94" y="136.85" width="5.09" height="2.30" fill="#d40000"/>
<rect x="197.94" y="134.85" width="5.09" height="2.30" fill="#d30000"/>
<rect x="197.94" y="132.85" width="5.09" height="2.30" fill="#d10000"/>
<rect x="197.94" y="130.85" width="5.09" height="2.30" fill="#d00000"/>
<rect x="197.94" y="128.85" width="5.09" height="2.30" fill="#ce0000"/>
<rect x="197.94" y="126.85" width="5.09" height="2.30" fill="#cd0000"/>
<rect x="197.94" y="124.85" width="5.09" height="2.30" fill="#cb0000"/>
<rect x="197.94" y="122.85" width="5.09" height="2.30" fill="#ca0000"/>
<rect x="197.94" y="120.85" width="5.09" height="2.30" fill="#c80000"/>
<rect x="197.94" y="118.85" width="5.09" height="2.30" fill="#c70000"/>
<rect x="197.94" y="44.85" width="5.09" height="74.30" fill="#c60000"/>
<rect x="201.83" y="214.85" width="5.09" height="14.30" fill="#f89418"/>
<rect x="201.83" y="172.85" width="5.09" height="42.30" fill="#f87c13"/>
<rect x="201.83" y="142.85" width="5.09" height="30.30" fill="#e30404"/>
<rect x="201.83" y="140.85" width="5.09" height="2.30" fill="#ca0000"/>
<rect x="201.83" y="138.85" width="5.09" height="2.30" fill="#c70000"/>
<rect x="201.83" y="136.85" width="5.09" height="2.30" fill="#c40000"/>
<rect x="201.83" y="134.85" width="5.09" height="2.30" fill="#c20000"/>
<rect x="201.83" y="132.85" width="5.09" height="2.30" fill="#bf0000"/>
<rect x="201.83" y="130.85" width="5.09" height="2.30" fill="#bc0000"/>
<rect x="201.83" y="128.85" width="5.09" height="2.30" fill="#b90000"/>
<rect x="201.83" y="126.85" width="5.09" height="2.30" fill="#b60000"/>
<rect x="201.83" y="124.85" width="5.09" height="2.30" fill="#b30000"/>
<rect x="201.83" y="122.85" width="5.09" height="2.30" fill="#b00000"/>
<rect x="201.83" y="120.85" width="5.09" height="2.30" fill="#ad0000"/>
<rect x="201.83" y="118.85" width="5.09" height="2.30" fill="#aa0000"/>
<rect x="201.83" y="44.85" width="5.09" height="74.30" fill="#a80000"/>
<rect x="205.73" y="154.85" width="5.09" height="74.30" fill="#db0101"/>
<rect x="205.73" y="152.85" width="5.09" height="2.30" fill="#be0000"/>
<rect x="205.73" y="150.85" width="5.09" height="2.30" fill="#bb0000"/>
<rect x="205.73" y="148.85" width="5.09" height="2.30" fill="#b90000"/>
<rect x="205.73" y="146.85" width="5.09" height="2.30" fill="#b60000"/>
<rect x="205.73" y="144.85" width="5.09" height="2.30" fill="#b30000"/>
<rect x="205.73" y="142.85" width="5.09" height="2.30" fill="#b00000"/>
<rect x="205.73" y="140.85" width="5.09" height="2.30" fill="#ae0000"/>
<rect x="205.73" y="138.85" width="5.09" height="2.30" fill="#ab0000"/>
<rect x="205.73" y="136.85" width="5.09" height="2.30" fill="#a80000"/>
<rect x="205.73" y="134.85" width="5.09" height="2.30" fill="#a40000"/>
<rect x="205.73" y="132.85" width="5.09" height="2.30" fill="#a00000"/>
<rect x="205.73" y="130.85" width="5.09" height="2.30" fill="#9b0000"/>
<rect x="205.73" y="128.85" width="5.09" height="2.30" fill="#970000"/>
<rect x="205.73" y="126.85" width="5.09" height="2.30" fill="#930000"/>
<rect x="205.73" y="124.85" width="5.09" height="2.30" fill="#8f0000"/>
<rect x="205.73" y="122.85" width="5.09" height="2.30" fill="#8a0000"/>
<rect x="205.73" y="120.85" width="5.09" height="2.30" fill="#860000"/>
<rect x="205.73" y="118.85" width="5.09" height="2.30" fill="#820000"/>
<rect x="205.73" y="44.85" width="5.09" height="74.30" fill="#7f0000"/>
<rect x="209.62" y="160.85" width="5.09" height="68.30" fill="#cc0000"/>
<rect x="209.62" y="158.85" width="5.09" height="2.30" fill="#a50000"/>
<rect x="209.62" y="156.85" width="5.09" height="2.30" fill="#a00000"/>
<rect x="209.62" y="154.85" width="5.09" height="2.30" fill="#9c0000"/>
<rect x="209.62" y="152.85" width="5.09" height="2.30" fill="#980000"/>
<rect x="209.62" y="150.85" width="5.09" height="2.30" fill="#930000"/>
<rect x="209.62" y="148.85" width="5.09" height="2.30" fill="#8f0000"/>
<rect x="209.62" y="146.85" width="5.09" height="2.30" fill="#8b0000"/>
<rect x="209.62" y="144.85" width="5.09" height="2.30" fill="#860000"/>
<rect x="209.62" y="142.85" width="5.09" height="2.30" fill="#820000"/>
<rect x="209.62" y="140.85" width="5.09" height="2.30" fill="#7e0000"/>
<rect x="209.62" y="138.85" width="5.09" height="2.30" fill="#790000"/>
<rect x="209.62" y="136.85" width="5.09" height="2.30" fill="#750000"/>
<rect x="209.62" y="134.85" width="5.09" height="2.30" fill="#700000"/>
<rect x="209.62" y="132.85" width="5.09" height="2.30" fill="#6c0000"/>
<rect x="209.62" y="130.85" width="5.09" height="2.30" fill="#680000"/>
<rect x="209.62" y="128.85" width="5.09" height="2.30" fill="#630000"/>
<rect x="209.62" y="126.85" width="5.09" height="2.30" fill="#5f0000"/>
<rect x="209.62" y="124.85" width="5.09" height="2.30" fill="#5b0000"/>
<rect x="209.62" y="122.85" width="5.09" height="2.30" fill="#560000"/>
<rect x="209.62" y="120.85" width="5.09" height="2.30" fill="#520000"/>
<rect x="209.62" y="118.85" width="5.09" height="2.30" fill="#4e0000"/>
<rect x="209.62" y="44.85" width="5.09" height="74.30" fill="#4b0000"/>
<rect x="213.51" y="160.85" width="5.09" height="68.30" fill="#8c0000"/>
<rect x="213.51" y="158.85" width="5.09" height="2.30" fill="#520000"/>
<rect x="213.51" y="156.85" width="5.09" height="2.30" fill="#4f0000"/>
<rect x="213.51" y="154.85" width="5.09" height="2.30" fill="#4d0000"/>
<rect x="213.51" y="152.85" width="5.09" height="2.30" fill="#4a0000"/>
<rect x="213.51" y="150.85" width="5.09" height="2.30" fill="#480000"/>
<rect x="213.51" y="148.85" width="5.09" height="2.30" fill="#450000"/>
<rect x="213.51" y="146.85" width="5.09" height="2.30" fill="#420000"/>
<rect x="213.51" y="144.85" width="5.09" height="2.30" fill="#400000"/>
<rect x="213.51" y="142.85" width="5.09" height="2.30" fill="#3d0000"/>
<rect x="213.51" y="140.85" width="5.09" height="2.30" fill="#3b0000"/>
<rect x="213.51" y="138.85" width="5.09" height="2.30" fill="#380000"/>
<rect x="213.51" y="136.85" width="5.09" height="2.30" fill="#350000"/>
<rect x="213.51" y="134.85" width="5.09" height="2.30" fill="#330000"/>
<rect x="213.51" y="132.85" width="5.09" height="2.30" fill="#300000"/>
<rect x="213.51" y="130.85" width="5.09" height="2.30" fill="#2d0000"/>
<rect x="213.51" y="128.85" width="5.09" height="2.30" fill="#2b0000"/>
<rect x="213.51" y="126.85" width="5.09" height="2.30" fill="#280000"/>
<rect x="213.51" y="124.85" width="5.09" height="2.30" fill="#260000"/>
<rect x="213.51" y="122.85" width="5.09" height="2.30" fill="#230000"/>
<rect x="213.51" y="120.85" width="5.09" height="2.30" fill="#200000"/>
<rect x="213.51" y="118.85" width="5.09" height="2.30" fill="#1e0000"/>
<rect x="213.51" y="44.85" width="5.09" height="74.30" fill="#1c0000"/>
<rect x="217.41" y="160.85" width="5.09" height="68.30" fill="#380000"/>
<rect x="217.41" y="158.85" width="5.09" height="2.30" fill="#150000"/>
<rect x="217.41" y="156.85" width="5.09" height="2.30" fill="#130000"/>
<rect x="217.41" y="154.85" width="5.09" height="2.30" fill="#110000"/>
<rect x="217.41" y="152.85" width="5.09" height="2.30" fill="#100000"/>
<rect x="217.41" y="150.85" width="5.09" height="2.30" fill="#0e0000"/>
<rect x="217.41" y="148.85" width="5.09" height="2.30" fill="#0c0000"/>
<rect x="217.41" y="146.85" width="5.09" height="2.30" fill="#0a0000"/>
<rect x="217.41" y="144.85" width="5.09" height="2.30" fill="#080000"/>
<rect x="217.41" y="142.85" width="5.09" height="2.30" fill="#060000"/>
<rect x="217.41" y="140.85" width="5.09" height="2.30" fill="#050000"/>
<rect x="217.41" y="138.85" width="5.09" height="2.30" fill="#030000"/>
<rect x="217.41" y="136.85" width="5.09" height="2.30" fill="#010000"/>
<rect x="217.41" y="44.85" width="5.09" height="92.30" fill="#000000"/>
</g></g>
<rect x="163.20" y="45.1" width="57.80" height="183.6" fill="none" stroke="#140000" stroke-width="0.9"/>
<line x1="172.63" y1="41.8" x2="172.63" y2="45.3" stroke="#000" stroke-width="1.1"/>
<text x="171.13" y="40.4" class="s" font-size="12" text-anchor="middle">-5</text>
<line x1="192.10" y1="41.8" x2="192.10" y2="45.3" stroke="#000" stroke-width="1.1"/>
<text x="192.10" y="40.4" class="s" font-size="12" text-anchor="middle">0</text>
<line x1="211.57" y1="41.8" x2="211.57" y2="45.3" stroke="#000" stroke-width="1.1"/>
<text x="211.57" y="40.4" class="s" font-size="12" text-anchor="middle">5</text>
<text x="192.10" y="241.9" class="s" font-size="12" text-anchor="middle">0.8</text>
<text x="192.15" y="272.6" class="s" font-size="12" text-anchor="middle">0.8</text>
<g clip-path="url(#hc3)"><g filter="url(#bl)">
<rect x="225.60" y="42" width="64.40" height="190" fill="#000"/>
<rect x="228.60" y="44.85" width="5.09" height="184.30" fill="#000000"/>
<rect x="232.49" y="44.85" width="5.09" height="184.30" fill="#000000"/>
<rect x="236.39" y="44.85" width="5.09" height="184.30" fill="#000000"/>
<rect x="240.28" y="44.85" width="5.09" height="184.30" fill="#000000"/>
<rect x="244.17" y="172.85" width="5.09" height="56.30" fill="#000000"/>
<rect x="244.17" y="44.85" width="5.09" height="128.30" fill="#1c0000"/>
<rect x="248.07" y="200.85" width="5.09" height="28.30" fill="#000000"/>
<rect x="248.07" y="192.85" width="5.09" height="8.30" fill="#160000"/>
<rect x="248.07" y="184.85" width="5.09" height="8.30" fill="#2f0000"/>
<rect x="248.07" y="172.85" width="5.09" height="12.30" fill="#4b0000"/>
<rect x="248.07" y="162.85" width="5.09" height="10.30" fill="#540000"/>
<rect x="248.07" y="150.85" width="5.09" height="12.30" fill="#790000"/>
<rect x="248.07" y="44.85" width="5.09" height="106.30" fill="#670000"/>
<rect x="251.96" y="218.85" width="5.09" height="10.30" fill="#000000"/>
<rect x="251.96" y="208.85" width="5.09" height="10.30" fill="#2f0000"/>
<rect x="251.96" y="200.85" width="5.09" height="8.30" fill="#5d0000"/>
<rect x="251.96" y="192.85" width="5.09" height="8.30" fill="#9f0000"/>
<rect x="251.96" y="184.85" width="5.09" height="8.30" fill="#d20000"/>
<rect x="251.96" y="172.85" width="5.09" height="12.30" fill="#ef0d08"/>
<rect x="251.96" y="162.85" width="5.09" height="10.30" fill="#f66810"/>
<rect x="251.96" y="150.85" width="5.09" height="12.30" fill="#f87411"/>
<rect x="251.96" y="128.85" width="5.09" height="22.30" fill="#ef0d08"/>
<rect x="251.96" y="118.85" width="5.09" height="10.30" fill="#f01008"/>
<rect x="251.96" y="102.85" width="5.09" height="16.30" fill="#f0230b"/>
<rect x="251.96" y="74.85" width="5.09" height="28.30" fill="#f66810"/>
<rect x="251.96" y="60.85" width="5.09" height="14.30" fill="#f0390e"/>
<rect x="251.96" y="44.85" width="5.09" height="16.30" fill="#ef0d08"/>
<rect x="255.85" y="200.85" width="5.09" height="28.30" fill="#f0f0f0"/>
<rect x="255.85" y="192.85" width="5.09" height="8.30" fill="#d0f0e3"/>
<rect x="255.85" y="184.85" width="5.09" height="8.30" fill="#96e9db"/>
<rect x="255.85" y="172.85" width="5.09" height="12.30" fill="#69c7ec"/>
<rect x="255.85" y="162.85" width="5.09" height="10.30" fill="#94e849"/>
<rect x="255.85" y="150.85" width="5.09" height="12.30" fill="#bddf27"/>
<rect x="255.85" y="138.85" width="5.09" height="12.30" fill="#6ce599"/>
<rect x="255.85" y="128.85" width="5.09" height="10.30" fill="#70d0ec"/>
<rect x="255.85" y="118.85" width="5.09" height="10.30" fill="#5ecedc"/>
<rect x="255.85" y="102.85" width="5.09" height="16.30" fill="#6ce599"/>
<rect x="255.85" y="74.85" width="5.09" height="28.30" fill="#94e849"/>
<rect x="255.85" y="60.85" width="5.09" height="14.30" fill="#61ddc9"/>
<rect x="255.85" y="44.85" width="5.09" height="16.30" fill="#70d0ec"/>
<rect x="259.75" y="218.85" width="5.09" height="10.30" fill="#130000"/>
<rect x="259.75" y="208.85" width="5.09" height="10.30" fill="#380000"/>
<rect x="259.75" y="200.85" width="5.09" height="8.30" fill="#700000"/>
<rect x="259.75" y="192.85" width="5.09" height="8.30" fill="#ae0000"/>
<rect x="259.75" y="184.85" width="5.09" height="8.30" fill="#d80000"/>
<rect x="259.75" y="176.85" width="5.09" height="8.30" fill="#ef0d08"/>
<rect x="259.75" y="172.85" width="5.09" height="4.30" fill="#f02c0c"/>
<rect x="259.75" y="162.85" width="5.09" height="10.30" fill="#f04810"/>
<rect x="259.75" y="150.85" width="5.09" height="12.30" fill="#f87010"/>
<rect x="259.75" y="128.85" width="5.09" height="22.30" fill="#ef0d08"/>
<rect x="259.75" y="118.85" width="5.09" height="10.30" fill="#f02c0c"/>
<rect x="259.75" y="96.85" width="5.09" height="22.30" fill="#f03f0f"/>
<rect x="259.75" y="74.85" width="5.09" height="22.30" fill="#f66810"/>
<rect x="259.75" y="60.85" width="5.09" height="14.30" fill="#f00f08"/>
<rect x="259.75" y="44.85" width="5.09" height="16.30" fill="#ef0b08"/>
<rect x="263.64" y="200.85" width="5.09" height="28.30" fill="#000000"/>
<rect x="263.64" y="192.85" width="5.09" height="8.30" fill="#160000"/>
<rect x="263.64" y="184.85" width="5.09" height="8.30" fill="#2f0000"/>
<rect x="263.64" y="172.85" width="5.09" height="12.30" fill="#4b0000"/>
<rect x="263.64" y="162.85" width="5.09" height="10.30" fill="#540000"/>
<rect x="263.64" y="150.85" width="5.09" height="12.30" fill="#790000"/>
<rect x="263.64" y="44.85" width="5.09" height="106.30" fill="#670000"/>
<rect x="267.53" y="172.85" width="5.09" height="56.30" fill="#000000"/>
<rect x="267.53" y="44.85" width="5.09" height="128.30" fill="#1c0000"/>
<rect x="271.43" y="44.85" width="5.09" height="184.30" fill="#000000"/>
<rect x="275.32" y="44.85" width="5.09" height="184.30" fill="#000000"/>
<rect x="279.21" y="44.85" width="5.09" height="184.30" fill="#000000"/>
<rect x="283.11" y="44.85" width="5.09" height="184.30" fill="#000000"/>
</g></g>
<rect x="228.90" y="45.1" width="57.80" height="183.6" fill="none" stroke="#140000" stroke-width="0.9"/>
<line x1="238.33" y1="41.8" x2="238.33" y2="45.3" stroke="#000" stroke-width="1.1"/>
<text x="236.83" y="40.4" class="s" font-size="12" text-anchor="middle">-5</text>
<line x1="257.80" y1="41.8" x2="257.80" y2="45.3" stroke="#000" stroke-width="1.1"/>
<text x="257.80" y="40.4" class="s" font-size="12" text-anchor="middle">0</text>
<line x1="277.27" y1="41.8" x2="277.27" y2="45.3" stroke="#000" stroke-width="1.1"/>
<text x="277.27" y="40.4" class="s" font-size="12" text-anchor="middle">5</text>
<text x="257.80" y="241.9" class="s" font-size="12" text-anchor="middle">0</text>
<text x="257.80" y="272.6" class="s" font-size="12" text-anchor="middle">0</text>
<g clip-path="url(#hc4)"><g filter="url(#bl)">
<rect x="288.95" y="42" width="64.40" height="190" fill="#000"/>
<rect x="291.95" y="44.85" width="5.09" height="184.30" fill="#000000"/>
<rect x="295.84" y="44.85" width="5.09" height="184.30" fill="#000000"/>
<rect x="299.74" y="44.85" width="5.09" height="184.30" fill="#000000"/>
<rect x="303.63" y="172.85" width="5.09" height="56.30" fill="#000000"/>
<rect x="303.63" y="44.85" width="5.09" height="128.30" fill="#0f0000"/>
<rect x="307.52" y="172.85" width="5.09" height="56.30" fill="#160000"/>
<rect x="307.52" y="44.85" width="5.09" height="128.30" fill="#2f0000"/>
<rect x="311.42" y="198.85" width="5.09" height="30.30" fill="#250000"/>
<rect x="311.42" y="184.85" width="5.09" height="14.30" fill="#380000"/>
<rect x="311.42" y="172.85" width="5.09" height="12.30" fill="#500000"/>
<rect x="311.42" y="162.85" width="5.09" height="10.30" fill="#790000"/>
<rect x="311.42" y="44.85" width="5.09" height="118.30" fill="#8c0000"/>
<rect x="315.31" y="218.85" width="5.09" height="10.30" fill="#4b0000"/>
<rect x="315.31" y="208.85" width="5.09" height="10.30" fill="#5d0000"/>
<rect x="315.31" y="198.85" width="5.09" height="10.30" fill="#830000"/>
<rect x="315.31" y="190.85" width="5.09" height="8.30" fill="#9f0000"/>
<rect x="315.31" y="184.85" width="5.09" height="6.30" fill="#c60000"/>
<rect x="315.31" y="172.85" width="5.09" height="12.30" fill="#e30404"/>
<rect x="315.31" y="162.85" width="5.09" height="10.30" fill="#f03f0f"/>
<rect x="315.31" y="150.85" width="5.09" height="12.30" fill="#f25010"/>
<rect x="315.31" y="138.85" width="5.09" height="12.30" fill="#f02c0c"/>
<rect x="315.31" y="116.85" width="5.09" height="22.30" fill="#ef0d08"/>
<rect x="315.31" y="102.85" width="5.09" height="14.30" fill="#f04810"/>
<rect x="315.31" y="60.85" width="5.09" height="42.30" fill="#f87010"/>
<rect x="315.31" y="44.85" width="5.09" height="16.30" fill="#f0230b"/>
<rect x="319.20" y="198.85" width="5.09" height="30.30" fill="#f0f0f0"/>
<rect x="319.20" y="190.85" width="5.09" height="8.30" fill="#d0f0e3"/>
<rect x="319.20" y="184.85" width="5.09" height="6.30" fill="#9aeada"/>
<rect x="319.20" y="172.85" width="5.09" height="12.30" fill="#70d0ec"/>
<rect x="319.20" y="162.85" width="5.09" height="10.30" fill="#67e3a7"/>
<rect x="319.20" y="150.85" width="5.09" height="12.30" fill="#89e85f"/>
<rect x="319.20" y="138.85" width="5.09" height="12.30" fill="#5ecedc"/>
<rect x="319.20" y="116.85" width="5.09" height="22.30" fill="#70d0ec"/>
<rect x="319.20" y="60.85" width="5.09" height="56.30" fill="#5ecedc"/>
<rect x="319.20" y="44.85" width="5.09" height="16.30" fill="#75d5ea"/>
<rect x="323.10" y="218.85" width="5.09" height="10.30" fill="#410000"/>
<rect x="323.10" y="208.85" width="5.09" height="10.30" fill="#580000"/>
<rect x="323.10" y="198.85" width="5.09" height="10.30" fill="#790000"/>
<rect x="323.10" y="190.85" width="5.09" height="8.30" fill="#a80000"/>
<rect x="323.10" y="184.85" width="5.09" height="6.30" fill="#c60000"/>
<rect x="323.10" y="176.85" width="5.09" height="8.30" fill="#e80606"/>
<rect x="323.10" y="172.85" width="5.09" height="4.30" fill="#f01008"/>
<rect x="323.10" y="162.85" width="5.09" height="10.30" fill="#f66810"/>
<rect x="323.10" y="150.85" width="5.09" height="12.30" fill="#f04810"/>
<rect x="323.10" y="44.85" width="5.09" height="106.30" fill="#ee0808"/>
<rect x="326.99" y="198.85" width="5.09" height="30.30" fill="#250000"/>
<rect x="326.99" y="184.85" width="5.09" height="14.30" fill="#380000"/>
<rect x="326.99" y="172.85" width="5.09" height="12.30" fill="#500000"/>
<rect x="326.99" y="162.85" width="5.09" height="10.30" fill="#790000"/>
<rect x="326.99" y="44.85" width="5.09" height="118.30" fill="#830000"/>
<rect x="330.88" y="172.85" width="5.09" height="56.30" fill="#160000"/>
<rect x="330.88" y="44.85" width="5.09" height="128.30" fill="#250000"/>
<rect x="334.78" y="172.85" width="5.09" height="56.30" fill="#000000"/>
<rect x="334.78" y="44.85" width="5.09" height="128.30" fill="#0b0000"/>
<rect x="338.67" y="44.85" width="5.09" height="184.30" fill="#000000"/>
<rect x="342.56" y="44.85" width="5.09" height="184.30" fill="#000000"/>
<rect x="346.46" y="44.85" width="5.09" height="184.30" fill="#000000"/>
</g></g>
<rect x="292.25" y="45.1" width="57.80" height="183.6" fill="none" stroke="#140000" stroke-width="0.9"/>
<line x1="301.68" y1="41.8" x2="301.68" y2="45.3" stroke="#000" stroke-width="1.1"/>
<text x="300.18" y="40.4" class="s" font-size="12" text-anchor="middle">-5</text>
<line x1="321.15" y1="41.8" x2="321.15" y2="45.3" stroke="#000" stroke-width="1.1"/>
<text x="321.15" y="40.4" class="s" font-size="12" text-anchor="middle">0</text>
<line x1="340.62" y1="41.8" x2="340.62" y2="45.3" stroke="#000" stroke-width="1.1"/>
<text x="340.62" y="40.4" class="s" font-size="12" text-anchor="middle">5</text>
<text x="321.15" y="241.9" class="s" font-size="12" text-anchor="middle">0.4</text>
<text x="321.15" y="272.6" class="s" font-size="12" text-anchor="middle">0.4</text>
<g clip-path="url(#hc5)"><g filter="url(#bl)">
<rect x="352.10" y="42" width="64.40" height="190" fill="#000"/>
<rect x="355.10" y="44.85" width="5.09" height="184.30" fill="#000000"/>
<rect x="358.99" y="44.85" width="5.09" height="184.30" fill="#000000"/>
<rect x="362.89" y="44.85" width="5.09" height="184.30" fill="#000000"/>
<rect x="366.78" y="172.85" width="5.09" height="56.30" fill="#000000"/>
<rect x="366.78" y="44.85" width="5.09" height="128.30" fill="#0b0000"/>
<rect x="370.67" y="184.85" width="5.09" height="44.30" fill="#160000"/>
<rect x="370.67" y="172.85" width="5.09" height="12.30" fill="#2f0000"/>
<rect x="370.67" y="44.85" width="5.09" height="128.30" fill="#4b0000"/>
<rect x="374.57" y="200.85" width="5.09" height="28.30" fill="#380000"/>
<rect x="374.57" y="184.85" width="5.09" height="16.30" fill="#500000"/>
<rect x="374.57" y="174.85" width="5.09" height="10.30" fill="#790000"/>
<rect x="374.57" y="150.85" width="5.09" height="24.30" fill="#950000"/>
<rect x="374.57" y="44.85" width="5.09" height="106.30" fill="#c00000"/>
<rect x="378.46" y="218.85" width="5.09" height="10.30" fill="#580000"/>
<rect x="378.46" y="208.85" width="5.09" height="10.30" fill="#670000"/>
<rect x="378.46" y="200.85" width="5.09" height="8.30" fill="#860000"/>
<rect x="378.46" y="192.85" width="5.09" height="8.30" fill="#a80000"/>
<rect x="378.46" y="184.85" width="5.09" height="8.30" fill="#c60000"/>
<rect x="378.46" y="174.85" width="5.09" height="10.30" fill="#eb0707"/>
<rect x="378.46" y="74.85" width="5.09" height="100.30" fill="#ef0d08"/>
<rect x="378.46" y="60.85" width="5.09" height="14.30" fill="#f02c0c"/>
<rect x="378.46" y="44.85" width="5.09" height="16.30" fill="#ef0d08"/>
<rect x="382.35" y="208.85" width="5.09" height="20.30" fill="#f0f0f0"/>
<rect x="382.35" y="200.85" width="5.09" height="8.30" fill="#e8f0eb"/>
<rect x="382.35" y="192.85" width="5.09" height="8.30" fill="#baefdb"/>
<rect x="382.35" y="184.85" width="5.09" height="8.30" fill="#83e2e2"/>
<rect x="382.35" y="174.85" width="5.09" height="10.30" fill="#69c7ec"/>
<rect x="382.35" y="150.85" width="5.09" height="24.30" fill="#5fd7d4"/>
<rect x="382.35" y="44.85" width="5.09" height="106.30" fill="#70d0ec"/>
<rect x="386.25" y="218.85" width="5.09" height="10.30" fill="#790000"/>
<rect x="386.25" y="208.85" width="5.09" height="10.30" fill="#900000"/>
<rect x="386.25" y="200.85" width="5.09" height="8.30" fill="#ae0000"/>
<rect x="386.25" y="192.85" width="5.09" height="8.30" fill="#d20000"/>
<rect x="386.25" y="184.85" width="5.09" height="8.30" fill="#ef0d08"/>
<rect x="386.25" y="174.85" width="5.09" height="10.30" fill="#f03f0f"/>
<rect x="386.25" y="162.85" width="5.09" height="12.30" fill="#f56010"/>
<rect x="386.25" y="150.85" width="5.09" height="12.30" fill="#f02c0c"/>
<rect x="386.25" y="118.85" width="5.09" height="32.30" fill="#ef0d08"/>
<rect x="386.25" y="100.85" width="5.09" height="18.30" fill="#f01008"/>
<rect x="386.25" y="44.85" width="5.09" height="56.30" fill="#ef0d08"/>
<rect x="390.14" y="200.85" width="5.09" height="28.30" fill="#410000"/>
<rect x="390.14" y="184.85" width="5.09" height="16.30" fill="#5d0000"/>
<rect x="390.14" y="174.85" width="5.09" height="10.30" fill="#830000"/>
<rect x="390.14" y="150.85" width="5.09" height="24.30" fill="#950000"/>
<rect x="390.14" y="44.85" width="5.09" height="106.30" fill="#ba0000"/>
<rect x="394.03" y="184.85" width="5.09" height="44.30" fill="#160000"/>
<rect x="394.03" y="172.85" width="5.09" height="12.30" fill="#2f0000"/>
<rect x="394.03" y="44.85" width="5.09" height="128.30" fill="#410000"/>
<rect x="397.93" y="172.85" width="5.09" height="56.30" fill="#000000"/>
<rect x="397.93" y="44.85" width="5.09" height="128.30" fill="#090000"/>
<rect x="401.82" y="44.85" width="5.09" height="184.30" fill="#000000"/>
<rect x="405.71" y="44.85" width="5.09" height="184.30" fill="#000000"/>
<rect x="409.61" y="44.85" width="5.09" height="184.30" fill="#000000"/>
</g></g>
<rect x="355.40" y="45.1" width="57.80" height="183.6" fill="none" stroke="#140000" stroke-width="0.9"/>
<line x1="364.83" y1="41.8" x2="364.83" y2="45.3" stroke="#000" stroke-width="1.1"/>
<text x="363.33" y="40.4" class="s" font-size="12" text-anchor="middle">-5</text>
<line x1="384.30" y1="41.8" x2="384.30" y2="45.3" stroke="#000" stroke-width="1.1"/>
<text x="384.30" y="40.4" class="s" font-size="12" text-anchor="middle">0</text>
<line x1="403.77" y1="41.8" x2="403.77" y2="45.3" stroke="#000" stroke-width="1.1"/>
<text x="403.77" y="40.4" class="s" font-size="12" text-anchor="middle">5</text>
<text x="384.30" y="241.9" class="s" font-size="12" text-anchor="middle">0.8</text>
<text x="384.25" y="272.6" class="s" font-size="12" text-anchor="middle">0.8</text>
<line x1="32.8" y1="45.00" x2="37.2" y2="45.00" stroke="#000" stroke-width="1.1"/>
<text x="31.8" y="49.90" class="s" font-size="12" text-anchor="end">1.5</text>
<line x1="32.8" y1="274.90" x2="36.9" y2="274.90" stroke="#1c1c1c" stroke-width="1.1"/>
<text x="31.8" y="279.80" class="s" font-size="12" text-anchor="end">1.5</text>
<line x1="413" y1="274.90" x2="417.4" y2="274.90" stroke="#1c1c1c" stroke-width="1.1"/>
<text x="420.4" y="279.80" class="s" font-size="12">1.5</text>
<line x1="32.8" y1="106.33" x2="37.2" y2="106.33" stroke="#000" stroke-width="1.1"/>
<text x="31.8" y="111.23" class="s" font-size="12" text-anchor="end">1.0</text>
<line x1="32.8" y1="336.20" x2="36.9" y2="336.20" stroke="#1c1c1c" stroke-width="1.1"/>
<text x="31.8" y="341.10" class="s" font-size="12" text-anchor="end">1.0</text>
<line x1="413" y1="336.20" x2="417.4" y2="336.20" stroke="#1c1c1c" stroke-width="1.1"/>
<text x="420.4" y="341.10" class="s" font-size="12">1.0</text>
<line x1="32.8" y1="167.67" x2="37.2" y2="167.67" stroke="#000" stroke-width="1.1"/>
<text x="31.8" y="172.57" class="s" font-size="12" text-anchor="end">0.5</text>
<line x1="32.8" y1="397.50" x2="36.9" y2="397.50" stroke="#1c1c1c" stroke-width="1.1"/>
<text x="31.8" y="402.40" class="s" font-size="12" text-anchor="end">0.5</text>
<line x1="413" y1="397.50" x2="417.4" y2="397.50" stroke="#1c1c1c" stroke-width="1.1"/>
<text x="420.4" y="402.40" class="s" font-size="12">0.5</text>
<line x1="32.8" y1="229.00" x2="37.2" y2="229.00" stroke="#000" stroke-width="1.1"/>
<text x="31.8" y="233.90" class="s" font-size="12" text-anchor="end">0</text>
<line x1="32.8" y1="458.80" x2="36.9" y2="458.80" stroke="#1c1c1c" stroke-width="1.1"/>
<text x="31.8" y="463.70" class="s" font-size="12" text-anchor="end">0</text>
<line x1="413" y1="458.80" x2="417.4" y2="458.80" stroke="#1c1c1c" stroke-width="1.1"/>
<text x="420.4" y="463.70" class="s" font-size="12">0</text>
<line x1="413" y1="446.54" x2="416.2" y2="446.54" stroke="#1c1c1c" stroke-width="1.1"/>
<line x1="413" y1="434.28" x2="416.2" y2="434.28" stroke="#1c1c1c" stroke-width="1.1"/>
<line x1="413" y1="422.02" x2="416.2" y2="422.02" stroke="#1c1c1c" stroke-width="1.1"/>
<line x1="413" y1="409.76" x2="416.2" y2="409.76" stroke="#1c1c1c" stroke-width="1.1"/>
<text transform="translate(13.8,137.5) rotate(-90)" font-size="15.95" text-anchor="middle">Power P [mW]</text>
<line x1="0.9" y1="137.6" x2="0.9" y2="128.8" stroke="#000" stroke-width="1.1"/>
<text transform="translate(13.8,368) rotate(-90)" font-size="15.95" text-anchor="middle">Power P [mW]</text>
<line x1="0.9" y1="368.1" x2="0.9" y2="359.3" stroke="#000" stroke-width="1.1"/>
<text transform="translate(442.9,367) rotate(90)" font-size="15.95" text-anchor="middle">Power P [mW]</text>
<line x1="456.4" y1="366.4" x2="456.4" y2="375.2" stroke="#000" stroke-width="1.1"/>
<text transform="translate(456.4,137.6) rotate(90)" font-size="15.8" text-anchor="middle">Normalized intensity</text>
<text x="144.5" y="256.2" font-size="15.8">Coupling disorder σ [C]</text>
<line x1="292.3" y1="243.2" x2="301.8" y2="243.2" stroke="#000" stroke-width="1.1"/>
<text x="153.1" y="489.2" font-size="15.75">Mean output width w</text>
<rect x="421.7" y="45" width="12.1" height="184.1" fill="url(#cb)" stroke="#383838" stroke-width="1.1"/>
<text x="437.2" y="54.00" class="s" font-size="12">1.0</text>
<text x="437.2" y="88.00" class="s" font-size="12">0.8</text>
<text x="437.2" y="123.60" class="s" font-size="12">0.6</text>
<text x="437.2" y="160.90" class="s" font-size="12">0.4</text>
<text x="437.2" y="197.60" class="s" font-size="12">0.2</text>
<text x="437.2" y="233.30" class="s" font-size="12">0</text>
<linearGradient id="gb" gradientUnits="userSpaceOnUse" x1="264" x2="413" y1="0" y2="0"><stop offset="0" stop-color="#2424ee"/><stop offset="0.5" stop-color="#4a4af4"/><stop offset="1" stop-color="#a0a0fa"/></linearGradient>
<linearGradient id="gg" gradientUnits="userSpaceOnUse" x1="330" x2="413" y1="0" y2="0"><stop offset="0" stop-color="#30e070"/><stop offset="1" stop-color="#98f4b4"/></linearGradient>
<linearGradient id="gr" gradientUnits="userSpaceOnUse" x1="395" x2="413" y1="0" y2="0"><stop offset="0" stop-color="#f03030"/><stop offset="1" stop-color="#ffd0d0"/></linearGradient>
<rect x="264" y="436.7" width="148.7" height="1.5" fill="url(#gb)"/>
<rect x="330" y="441.1" width="82.7" height="1.7" fill="url(#gg)"/>
<rect x="395" y="445.0" width="17.7" height="1.7" fill="url(#gr)"/>
<path d="M253.7,437.5 L258.8,433.5 L258.8,435.6 L264.9,435.6 L264.9,439.4 L258.8,439.4 L258.8,441.5 Z" fill="#2a2a96"/>
<path d="M320.0,441.9 L325.1,437.9 L325.1,440.0 L331.2,440.0 L331.2,443.8 L325.1,443.8 L325.1,445.9 Z" fill="#12a452"/>
<path d="M384.7,445.8 L389.8,441.8 L389.8,443.9 L395.9,443.9 L395.9,447.7 L389.8,447.7 L389.8,449.8 Z" fill="#ee1418"/>
<line x1="247.9" y1="367" x2="247.9" y2="445" stroke="#7c7c7c" stroke-width="1.1" stroke-dasharray="3.6 2.2"/>
<line x1="313.9" y1="387.4" x2="313.9" y2="441" stroke="#7c7c7c" stroke-width="1.1" stroke-dasharray="3.6 2.2"/>
<line x1="379.3" y1="408.4" x2="379.3" y2="437" stroke="#7c7c7c" stroke-width="1.1" stroke-dasharray="3.6 2.2"/>
<g clip-path="url(#lc0)">
<polyline points="89.9,459.0 89.6,452.0 88.9,446.0 87.7,439.8 86.0,427.0 83.0,415.2 78.7,403.5 71.2,392.8 65.3,382.0 58.4,375.7 56.5,367.0 53.9,356.9 51.4,335.5 48.2,307.7 45.0,275.0" fill="none" stroke="#28288c" stroke-width="1.7" stroke-linejoin="round"/>
</g>
<rect x="37.00" y="274.9" width="57.40" height="183.90" fill="none" stroke="#262626" stroke-width="1.35"/>
<line x1="37.00" y1="458.8" x2="37.00" y2="461.40000000000003" stroke="#262626" stroke-width="1.2"/>
<line x1="94.40" y1="458.8" x2="94.40" y2="461.40000000000003" stroke="#262626" stroke-width="1.2"/>
<line x1="39.87" y1="458.8" x2="39.87" y2="461.20" stroke="#1c1c1c" stroke-width="0.85"/>
<line x1="42.74" y1="458.8" x2="42.74" y2="461.20" stroke="#1c1c1c" stroke-width="0.85"/>
<line x1="45.61" y1="458.8" x2="45.61" y2="461.20" stroke="#1c1c1c" stroke-width="0.85"/>
<line x1="48.48" y1="458.8" x2="48.48" y2="463.50" stroke="#1c1c1c" stroke-width="1.0"/>
<line x1="51.35" y1="458.8" x2="51.35" y2="461.20" stroke="#1c1c1c" stroke-width="0.85"/>
<line x1="54.22" y1="458.8" x2="54.22" y2="461.20" stroke="#1c1c1c" stroke-width="0.85"/>
<line x1="57.09" y1="458.8" x2="57.09" y2="461.20" stroke="#1c1c1c" stroke-width="0.85"/>
<line x1="59.96" y1="458.8" x2="59.96" y2="461.20" stroke="#1c1c1c" stroke-width="0.85"/>
<line x1="62.83" y1="458.8" x2="62.83" y2="461.20" stroke="#1c1c1c" stroke-width="0.85"/>
<line x1="65.70" y1="458.8" x2="65.70" y2="461.20" stroke="#1c1c1c" stroke-width="0.85"/>
<line x1="68.57" y1="458.8" x2="68.57" y2="461.20" stroke="#1c1c1c" stroke-width="0.85"/>
<line x1="71.44" y1="458.8" x2="71.44" y2="461.20" stroke="#1c1c1c" stroke-width="0.85"/>
<line x1="74.31" y1="458.8" x2="74.31" y2="461.20" stroke="#1c1c1c" stroke-width="0.85"/>
<line x1="77.18" y1="458.8" x2="77.18" y2="463.50" stroke="#1c1c1c" stroke-width="1.0"/>
<line x1="80.05" y1="458.8" x2="80.05" y2="461.20" stroke="#1c1c1c" stroke-width="0.85"/>
<line x1="82.92" y1="458.8" x2="82.92" y2="461.20" stroke="#1c1c1c" stroke-width="0.85"/>
<line x1="85.79" y1="458.8" x2="85.79" y2="461.20" stroke="#1c1c1c" stroke-width="0.85"/>
<line x1="88.66" y1="458.8" x2="88.66" y2="461.20" stroke="#1c1c1c" stroke-width="0.85"/>
<line x1="91.53" y1="458.8" x2="91.53" y2="461.20" stroke="#1c1c1c" stroke-width="0.85"/>
<text x="48.48" y="474.9" class="s" font-size="12" text-anchor="middle">2.0</text>
<text x="77.18" y="474.9" class="s" font-size="12" text-anchor="middle">3.0</text>
<g clip-path="url(#lc1)">
<polyline points="153.3,459.0 152.8,445.6 150.0,428.9 144.4,415.0 135.8,403.9 129.4,398.0 123.6,392.8 119.7,386.4 116.7,381.7 115.0,375.7 112.2,365.0 108.9,348.3 107.6,339.8 107.0,331.7 106.8,318.4 106.6,292.8 104.6,275.0" fill="none" stroke="#10a050" stroke-width="1.7" stroke-linejoin="round"/>
</g>
<rect x="100.05" y="274.9" width="57.40" height="183.90" fill="none" stroke="#262626" stroke-width="1.35"/>
<line x1="100.05" y1="458.8" x2="100.05" y2="461.40000000000003" stroke="#262626" stroke-width="1.2"/>
<line x1="157.45" y1="458.8" x2="157.45" y2="461.40000000000003" stroke="#262626" stroke-width="1.2"/>
<line x1="102.92" y1="458.8" x2="102.92" y2="461.20" stroke="#1c1c1c" stroke-width="0.85"/>
<line x1="105.79" y1="458.8" x2="105.79" y2="461.20" stroke="#1c1c1c" stroke-width="0.85"/>
<line x1="108.66" y1="458.8" x2="108.66" y2="461.20" stroke="#1c1c1c" stroke-width="0.85"/>
<line x1="111.53" y1="458.8" x2="111.53" y2="461.20" stroke="#1c1c1c" stroke-width="0.85"/>
<line x1="114.40" y1="458.8" x2="114.40" y2="461.20" stroke="#1c1c1c" stroke-width="0.85"/>
<line x1="117.27" y1="458.8" x2="117.27" y2="463.50" stroke="#1c1c1c" stroke-width="1.0"/>
<line x1="120.14" y1="458.8" x2="120.14" y2="461.20" stroke="#1c1c1c" stroke-width="0.85"/>
<line x1="123.01" y1="458.8" x2="123.01" y2="461.20" stroke="#1c1c1c" stroke-width="0.85"/>
<line x1="125.88" y1="458.8" x2="125.88" y2="461.20" stroke="#1c1c1c" stroke-width="0.85"/>
<line x1="128.75" y1="458.8" x2="128.75" y2="461.20" stroke="#1c1c1c" stroke-width="0.85"/>
<line x1="131.62" y1="458.8" x2="131.62" y2="461.20" stroke="#1c1c1c" stroke-width="0.85"/>
<line x1="134.49" y1="458.8" x2="134.49" y2="461.20" stroke="#1c1c1c" stroke-width="0.85"/>
<line x1="137.36" y1="458.8" x2="137.36" y2="461.20" stroke="#1c1c1c" stroke-width="0.85"/>
<line x1="140.23" y1="458.8" x2="140.23" y2="461.20" stroke="#1c1c1c" stroke-width="0.85"/>
<line x1="143.10" y1="458.8" x2="143.10" y2="461.20" stroke="#1c1c1c" stroke-width="0.85"/>
<line x1="145.97" y1="458.8" x2="145.97" y2="463.50" stroke="#1c1c1c" stroke-width="1.0"/>
<line x1="148.84" y1="458.8" x2="148.84" y2="461.20" stroke="#1c1c1c" stroke-width="0.85"/>
<line x1="151.71" y1="458.8" x2="151.71" y2="461.20" stroke="#1c1c1c" stroke-width="0.85"/>
<line x1="154.58" y1="458.8" x2="154.58" y2="461.20" stroke="#1c1c1c" stroke-width="0.85"/>
<text x="117.27" y="474.9" class="s" font-size="12" text-anchor="middle">2.0</text>
<text x="145.97" y="474.9" class="s" font-size="12" text-anchor="middle">3.0</text>
<g clip-path="url(#lc2)">
<polyline points="209.2,459.0 208.9,448.3 207.5,434.4 204.7,420.6 200.0,409.4 191.4,395.6 184.4,381.7 178.8,365.0 176.9,353.9 174.2,334.4 172.8,306.7 169.4,275.0" fill="none" stroke="#e81018" stroke-width="1.7" stroke-linejoin="round"/>
</g>
<rect x="163.45" y="274.9" width="57.40" height="183.90" fill="none" stroke="#262626" stroke-width="1.35"/>
<line x1="163.45" y1="458.8" x2="163.45" y2="461.40000000000003" stroke="#262626" stroke-width="1.2"/>
<line x1="220.85" y1="458.8" x2="220.85" y2="461.40000000000003" stroke="#262626" stroke-width="1.2"/>
<line x1="166.32" y1="458.8" x2="166.32" y2="461.20" stroke="#1c1c1c" stroke-width="0.85"/>
<line x1="169.19" y1="458.8" x2="169.19" y2="461.20" stroke="#1c1c1c" stroke-width="0.85"/>
<line x1="172.06" y1="458.8" x2="172.06" y2="461.20" stroke="#1c1c1c" stroke-width="0.85"/>
<line x1="174.93" y1="458.8" x2="174.93" y2="463.50" stroke="#1c1c1c" stroke-width="1.0"/>
<line x1="177.80" y1="458.8" x2="177.80" y2="461.20" stroke="#1c1c1c" stroke-width="0.85"/>
<line x1="180.67" y1="458.8" x2="180.67" y2="461.20" stroke="#1c1c1c" stroke-width="0.85"/>
<line x1="183.54" y1="458.8" x2="183.54" y2="461.20" stroke="#1c1c1c" stroke-width="0.85"/>
<line x1="186.41" y1="458.8" x2="186.41" y2="461.20" stroke="#1c1c1c" stroke-width="0.85"/>
<line x1="189.28" y1="458.8" x2="189.28" y2="461.20" stroke="#1c1c1c" stroke-width="0.85"/>
<line x1="192.15" y1="458.8" x2="192.15" y2="461.20" stroke="#1c1c1c" stroke-width="0.85"/>
<line x1="195.02" y1="458.8" x2="195.02" y2="461.20" stroke="#1c1c1c" stroke-width="0.85"/>
<line x1="197.89" y1="458.8" x2="197.89" y2="461.20" stroke="#1c1c1c" stroke-width="0.85"/>
<line x1="200.76" y1="458.8" x2="200.76" y2="461.20" stroke="#1c1c1c" stroke-width="0.85"/>
<line x1="203.63" y1="458.8" x2="203.63" y2="463.50" stroke="#1c1c1c" stroke-width="1.0"/>
<line x1="206.50" y1="458.8" x2="206.50" y2="461.20" stroke="#1c1c1c" stroke-width="0.85"/>
<line x1="209.37" y1="458.8" x2="209.37" y2="461.20" stroke="#1c1c1c" stroke-width="0.85"/>
<line x1="212.24" y1="458.8" x2="212.24" y2="461.20" stroke="#1c1c1c" stroke-width="0.85"/>
<line x1="215.11" y1="458.8" x2="215.11" y2="461.20" stroke="#1c1c1c" stroke-width="0.85"/>
<line x1="217.98" y1="458.8" x2="217.98" y2="461.20" stroke="#1c1c1c" stroke-width="0.85"/>
<text x="174.93" y="474.9" class="s" font-size="12" text-anchor="middle">2.0</text>
<text x="203.63" y="474.9" class="s" font-size="12" text-anchor="middle">3.0</text>
<g clip-path="url(#lc3)">
<polyline points="247.6,459.0 247.5,450.0 248.0,443.0 248.7,437.2 250.2,429.0 252.3,421.0 254.7,413.0 257.4,404.7 260.3,398.5 263.5,392.5 267.5,386.0 271.6,380.8 269.8,370.0 265.3,359.5 264.4,333.0 263.6,306.0 259.7,290.8 258.5,275.0" fill="none" stroke="#28288c" stroke-width="1.7" stroke-linejoin="round"/>
<line x1="244.2" y1="451.5" x2="261.9" y2="384.4" stroke="#111" stroke-width="0.9" stroke-dasharray="3.6 2"/>
</g>
<rect x="229.10" y="274.9" width="57.40" height="183.90" fill="none" stroke="#262626" stroke-width="1.35"/>
<line x1="229.10" y1="458.8" x2="229.10" y2="461.40000000000003" stroke="#262626" stroke-width="1.2"/>
<line x1="286.50" y1="458.8" x2="286.50" y2="461.40000000000003" stroke="#262626" stroke-width="1.2"/>
<line x1="243.45" y1="458.8" x2="243.45" y2="463.50" stroke="#1c1c1c" stroke-width="1.0"/>
<line x1="257.80" y1="458.8" x2="257.80" y2="461.20" stroke="#1c1c1c" stroke-width="0.85"/>
<line x1="272.15" y1="458.8" x2="272.15" y2="463.50" stroke="#1c1c1c" stroke-width="1.0"/>
<text x="244.05" y="474.9" class="s" font-size="12" text-anchor="middle">0.6</text>
<text x="272.75" y="474.9" class="s" font-size="12" text-anchor="middle">1.0</text>
<g clip-path="url(#lc4)">
<polyline points="313.9,459.0 313.8,450.0 314.3,441.3 316.3,429.1 320.0,416.9 324.5,404.7 330.6,392.5 333.0,381.3 329.5,370.2 327.2,362.6 323.8,347.0 323.3,333.0 322.6,306.0 320.8,275.0" fill="none" stroke="#10a050" stroke-width="1.7" stroke-linejoin="round"/>
<line x1="311.9" y1="452.5" x2="324.5" y2="398.6" stroke="#111" stroke-width="0.9" stroke-dasharray="3.6 2"/>
</g>
<rect x="292.45" y="274.9" width="57.40" height="183.90" fill="none" stroke="#262626" stroke-width="1.35"/>
<line x1="292.45" y1="458.8" x2="292.45" y2="461.40000000000003" stroke="#262626" stroke-width="1.2"/>
<line x1="349.85" y1="458.8" x2="349.85" y2="461.40000000000003" stroke="#262626" stroke-width="1.2"/>
<line x1="306.80" y1="458.8" x2="306.80" y2="463.50" stroke="#1c1c1c" stroke-width="1.0"/>
<line x1="321.15" y1="458.8" x2="321.15" y2="461.20" stroke="#1c1c1c" stroke-width="0.85"/>
<line x1="335.50" y1="458.8" x2="335.50" y2="463.50" stroke="#1c1c1c" stroke-width="1.0"/>
<text x="307.40" y="474.9" class="s" font-size="12" text-anchor="middle">0.6</text>
<text x="336.10" y="474.9" class="s" font-size="12" text-anchor="middle">1.0</text>
<g clip-path="url(#lc5)">
<polyline points="379.3,459.0 378.7,449.4 379.9,441.3 384.0,429.1 389.0,416.9 395.6,404.7 401.3,392.5 403.7,381.3 402.3,370.2 398.0,347.8 394.9,333.2 393.2,305.0 392.0,275.0" fill="none" stroke="#e81018" stroke-width="1.7" stroke-linejoin="round"/>
<line x1="376.7" y1="453.9" x2="390.5" y2="414.9" stroke="#111" stroke-width="0.9" stroke-dasharray="3.6 2"/>
</g>
<rect x="355.55" y="274.9" width="57.40" height="183.90" fill="none" stroke="#262626" stroke-width="1.35"/>
<line x1="355.55" y1="458.8" x2="355.55" y2="461.40000000000003" stroke="#262626" stroke-width="1.2"/>
<line x1="412.95" y1="458.8" x2="412.95" y2="461.40000000000003" stroke="#262626" stroke-width="1.2"/>
<line x1="369.90" y1="458.8" x2="369.90" y2="463.50" stroke="#1c1c1c" stroke-width="1.0"/>
<line x1="384.25" y1="458.8" x2="384.25" y2="461.20" stroke="#1c1c1c" stroke-width="0.85"/>
<line x1="398.60" y1="458.8" x2="398.60" y2="463.50" stroke="#1c1c1c" stroke-width="1.0"/>
<text x="370.50" y="474.9" class="s" font-size="12" text-anchor="middle">0.6</text>
<text x="399.20" y="474.9" class="s" font-size="12" text-anchor="middle">1.0</text>
</svg></body></html>
